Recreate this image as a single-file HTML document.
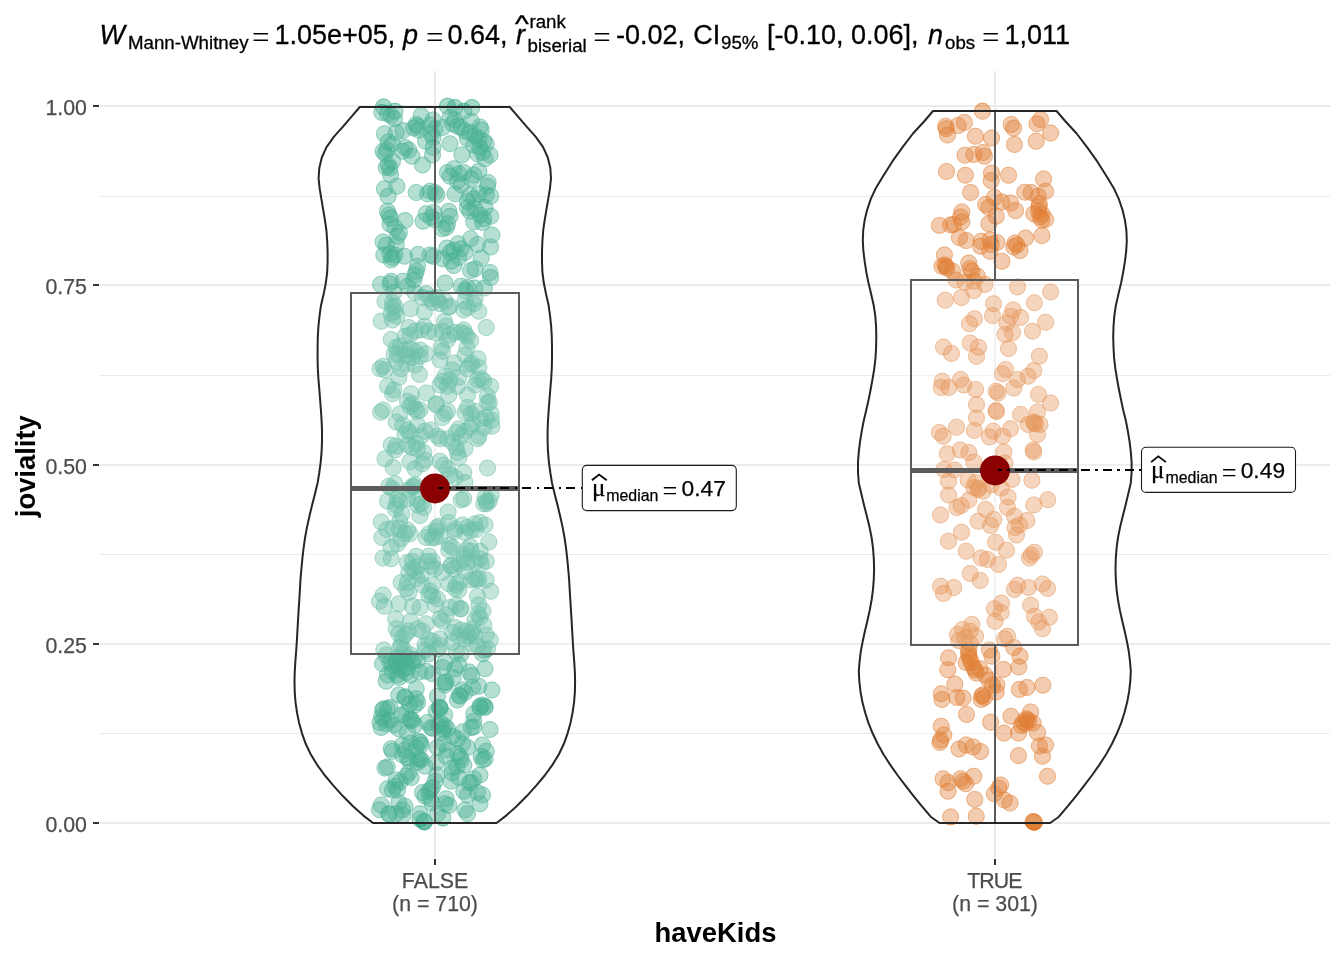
<!DOCTYPE html>
<html lang="en"><head><meta charset="utf-8"><title>ggbetweenstats: joviality by haveKids</title>
<style>html,body{margin:0;padding:0;background:#fff}body{width:1344px;height:960px;overflow:hidden}svg text{white-space:pre}</style>
</head><body>
<svg width="1344" height="960" viewBox="0 0 1344 960" style="display:block">
<rect width="1344" height="960" fill="#fff"/>
<g fill="#ebebeb" shape-rendering="crispEdges">
<rect x="100" y="196" width="1230" height="1"/>
<rect x="100" y="375" width="1230" height="1"/>
<rect x="100" y="554" width="1230" height="1"/>
<rect x="100" y="733" width="1230" height="1"/>
<rect x="100" y="822" width="1230" height="2"/>
<rect x="100" y="643" width="1230" height="2"/>
<rect x="100" y="464" width="1230" height="2"/>
<rect x="100" y="284" width="1230" height="2"/>
<rect x="100" y="105" width="1230" height="2"/>
<rect x="434" y="71" width="2" height="787"/>
<rect x="994" y="71" width="2" height="787"/>
</g>
<g fill="#1B9E77" fill-opacity="0.4"><circle cx="383.5" cy="106.9" r="8.5"/><circle cx="381.9" cy="112.5" r="8.5"/><circle cx="395.0" cy="111.2" r="8.5"/><circle cx="391.2" cy="115.6" r="8.5"/><circle cx="394.4" cy="118.8" r="8.5"/><circle cx="387.5" cy="113.8" r="8.5"/><circle cx="384.4" cy="133.8" r="8.5"/><circle cx="396.2" cy="132.5" r="8.5"/><circle cx="403.1" cy="130.6" r="8.5"/><circle cx="388.1" cy="141.9" r="8.5"/><circle cx="392.5" cy="143.8" r="8.5"/><circle cx="383.1" cy="151.2" r="8.5"/><circle cx="385.0" cy="153.8" r="8.5"/><circle cx="386.9" cy="150.0" r="8.5"/><circle cx="405.0" cy="147.5" r="8.5"/><circle cx="402.5" cy="151.2" r="8.5"/><circle cx="408.8" cy="150.0" r="8.5"/><circle cx="411.9" cy="156.2" r="8.5"/><circle cx="392.5" cy="161.2" r="8.5"/><circle cx="388.1" cy="165.0" r="8.5"/><circle cx="390.0" cy="168.1" r="8.5"/><circle cx="386.2" cy="167.5" r="8.5"/><circle cx="390.6" cy="175.0" r="8.5"/><circle cx="422.5" cy="165.0" r="8.5"/><circle cx="384.4" cy="188.8" r="8.5"/><circle cx="396.9" cy="186.2" r="8.5"/><circle cx="388.1" cy="196.2" r="8.5"/><circle cx="421.2" cy="115.6" r="8.5"/><circle cx="416.2" cy="124.4" r="8.5"/><circle cx="413.8" cy="128.1" r="8.5"/><circle cx="418.8" cy="130.0" r="8.5"/><circle cx="417.5" cy="126.2" r="8.5"/><circle cx="433.1" cy="120.0" r="8.5"/><circle cx="430.0" cy="125.0" r="8.5"/><circle cx="435.0" cy="128.8" r="8.5"/><circle cx="431.2" cy="133.8" r="8.5"/><circle cx="433.1" cy="137.5" r="8.5"/><circle cx="425.6" cy="141.2" r="8.5"/><circle cx="432.5" cy="155.0" r="8.5"/><circle cx="433.1" cy="147.5" r="8.5"/><circle cx="447.5" cy="106.2" r="8.5"/><circle cx="455.0" cy="107.5" r="8.5"/><circle cx="471.9" cy="107.5" r="8.5"/><circle cx="463.8" cy="111.2" r="8.5"/><circle cx="450.0" cy="117.5" r="8.5"/><circle cx="455.0" cy="120.0" r="8.5"/><circle cx="452.5" cy="123.8" r="8.5"/><circle cx="461.2" cy="127.5" r="8.5"/><circle cx="465.0" cy="131.2" r="8.5"/><circle cx="470.0" cy="132.5" r="8.5"/><circle cx="480.0" cy="126.9" r="8.5"/><circle cx="481.2" cy="130.0" r="8.5"/><circle cx="475.0" cy="136.2" r="8.5"/><circle cx="478.8" cy="138.8" r="8.5"/><circle cx="483.8" cy="141.2" r="8.5"/><circle cx="486.2" cy="143.8" r="8.5"/><circle cx="471.2" cy="121.2" r="8.5"/><circle cx="450.0" cy="143.8" r="8.5"/><circle cx="461.9" cy="155.0" r="8.5"/><circle cx="480.0" cy="147.5" r="8.5"/><circle cx="482.5" cy="152.5" r="8.5"/><circle cx="490.0" cy="155.0" r="8.5"/><circle cx="477.5" cy="153.8" r="8.5"/><circle cx="485.0" cy="158.8" r="8.5"/><circle cx="473.8" cy="145.0" r="8.5"/><circle cx="467.5" cy="138.8" r="8.5"/><circle cx="457.5" cy="126.2" r="8.5"/><circle cx="442.5" cy="127.5" r="8.5"/><circle cx="447.5" cy="172.5" r="8.5"/><circle cx="453.8" cy="168.8" r="8.5"/><circle cx="450.0" cy="176.2" r="8.5"/><circle cx="458.8" cy="173.8" r="8.5"/><circle cx="463.8" cy="172.5" r="8.5"/><circle cx="473.8" cy="175.0" r="8.5"/><circle cx="471.2" cy="178.8" r="8.5"/><circle cx="457.5" cy="181.2" r="8.5"/><circle cx="478.8" cy="171.2" r="8.5"/><circle cx="488.1" cy="182.5" r="8.5"/><circle cx="487.5" cy="186.2" r="8.5"/><circle cx="461.2" cy="185.0" r="8.5"/><circle cx="416.2" cy="192.5" r="8.5"/><circle cx="430.0" cy="191.2" r="8.5"/><circle cx="435.0" cy="192.5" r="8.5"/><circle cx="436.9" cy="195.0" r="8.5"/><circle cx="427.5" cy="193.8" r="8.5"/><circle cx="455.0" cy="193.8" r="8.5"/><circle cx="470.0" cy="195.0" r="8.5"/><circle cx="473.8" cy="198.8" r="8.5"/><circle cx="467.5" cy="201.2" r="8.5"/><circle cx="486.2" cy="195.0" r="8.5"/><circle cx="490.6" cy="196.2" r="8.5"/><circle cx="478.8" cy="193.8" r="8.5"/><circle cx="387.5" cy="211.2" r="8.5"/><circle cx="388.8" cy="215.0" r="8.5"/><circle cx="390.6" cy="218.1" r="8.5"/><circle cx="405.0" cy="220.6" r="8.5"/><circle cx="395.0" cy="227.5" r="8.5"/><circle cx="399.4" cy="232.5" r="8.5"/><circle cx="397.5" cy="236.2" r="8.5"/><circle cx="383.1" cy="241.9" r="8.5"/><circle cx="386.2" cy="245.0" r="8.5"/><circle cx="396.2" cy="244.4" r="8.5"/><circle cx="383.8" cy="255.0" r="8.5"/><circle cx="390.0" cy="253.8" r="8.5"/><circle cx="392.5" cy="257.5" r="8.5"/><circle cx="395.0" cy="255.0" r="8.5"/><circle cx="391.2" cy="260.0" r="8.5"/><circle cx="404.4" cy="256.2" r="8.5"/><circle cx="418.1" cy="254.4" r="8.5"/><circle cx="417.5" cy="266.2" r="8.5"/><circle cx="416.2" cy="271.2" r="8.5"/><circle cx="415.0" cy="275.0" r="8.5"/><circle cx="413.8" cy="280.0" r="8.5"/><circle cx="380.6" cy="284.4" r="8.5"/><circle cx="391.2" cy="281.2" r="8.5"/><circle cx="390.0" cy="283.8" r="8.5"/><circle cx="403.1" cy="281.2" r="8.5"/><circle cx="407.5" cy="286.2" r="8.5"/><circle cx="393.8" cy="292.5" r="8.5"/><circle cx="426.2" cy="213.8" r="8.5"/><circle cx="423.1" cy="221.2" r="8.5"/><circle cx="433.8" cy="212.5" r="8.5"/><circle cx="435.0" cy="220.0" r="8.5"/><circle cx="431.2" cy="217.5" r="8.5"/><circle cx="433.1" cy="256.2" r="8.5"/><circle cx="430.0" cy="255.0" r="8.5"/><circle cx="448.8" cy="211.2" r="8.5"/><circle cx="450.0" cy="216.2" r="8.5"/><circle cx="447.5" cy="223.8" r="8.5"/><circle cx="442.5" cy="228.8" r="8.5"/><circle cx="446.2" cy="227.5" r="8.5"/><circle cx="467.5" cy="207.5" r="8.5"/><circle cx="475.0" cy="208.8" r="8.5"/><circle cx="470.0" cy="211.2" r="8.5"/><circle cx="480.0" cy="215.0" r="8.5"/><circle cx="483.8" cy="218.8" r="8.5"/><circle cx="485.0" cy="207.5" r="8.5"/><circle cx="490.6" cy="216.2" r="8.5"/><circle cx="473.8" cy="221.9" r="8.5"/><circle cx="482.5" cy="222.5" r="8.5"/><circle cx="491.9" cy="235.0" r="8.5"/><circle cx="470.6" cy="238.8" r="8.5"/><circle cx="458.1" cy="243.8" r="8.5"/><circle cx="446.9" cy="248.1" r="8.5"/><circle cx="453.8" cy="250.0" r="8.5"/><circle cx="461.2" cy="248.8" r="8.5"/><circle cx="465.0" cy="252.5" r="8.5"/><circle cx="477.5" cy="244.4" r="8.5"/><circle cx="490.6" cy="246.9" r="8.5"/><circle cx="481.2" cy="258.1" r="8.5"/><circle cx="442.5" cy="258.8" r="8.5"/><circle cx="451.2" cy="261.2" r="8.5"/><circle cx="453.8" cy="265.6" r="8.5"/><circle cx="458.8" cy="257.5" r="8.5"/><circle cx="470.6" cy="270.6" r="8.5"/><circle cx="475.0" cy="268.8" r="8.5"/><circle cx="490.0" cy="272.5" r="8.5"/><circle cx="490.6" cy="277.5" r="8.5"/><circle cx="445.0" cy="283.1" r="8.5"/><circle cx="461.2" cy="286.2" r="8.5"/><circle cx="465.0" cy="290.6" r="8.5"/><circle cx="475.0" cy="288.1" r="8.5"/><circle cx="484.4" cy="288.1" r="8.5"/><circle cx="467.5" cy="287.5" r="8.5"/><circle cx="415.0" cy="292.5" r="8.5"/><circle cx="426.2" cy="293.8" r="8.5"/><circle cx="422.5" cy="297.5" r="8.5"/><circle cx="430.0" cy="298.8" r="8.5"/><circle cx="437.5" cy="300.0" r="8.5"/><circle cx="445.0" cy="301.2" r="8.5"/><circle cx="385.0" cy="301.2" r="8.5"/><circle cx="392.5" cy="302.5" r="8.5"/><circle cx="395.0" cy="306.2" r="8.5"/><circle cx="465.0" cy="301.2" r="8.5"/><circle cx="475.0" cy="298.8" r="8.5"/><circle cx="450.3" cy="252.3" r="8.5"/><circle cx="448.4" cy="307.2" r="8.5"/><circle cx="390.1" cy="224.3" r="8.5"/><circle cx="392.5" cy="307.5" r="8.5"/><circle cx="395.0" cy="311.2" r="8.5"/><circle cx="391.2" cy="313.8" r="8.5"/><circle cx="396.9" cy="316.2" r="8.5"/><circle cx="410.6" cy="308.8" r="8.5"/><circle cx="424.4" cy="311.9" r="8.5"/><circle cx="381.2" cy="321.2" r="8.5"/><circle cx="392.5" cy="320.0" r="8.5"/><circle cx="467.5" cy="307.5" r="8.5"/><circle cx="463.8" cy="310.0" r="8.5"/><circle cx="478.8" cy="311.2" r="8.5"/><circle cx="473.8" cy="303.8" r="8.5"/><circle cx="450.0" cy="306.2" r="8.5"/><circle cx="440.0" cy="303.8" r="8.5"/><circle cx="432.5" cy="302.5" r="8.5"/><circle cx="486.2" cy="327.5" r="8.5"/><circle cx="444.4" cy="321.2" r="8.5"/><circle cx="446.2" cy="326.2" r="8.5"/><circle cx="442.5" cy="331.2" r="8.5"/><circle cx="450.0" cy="335.0" r="8.5"/><circle cx="447.5" cy="340.0" r="8.5"/><circle cx="463.8" cy="330.0" r="8.5"/><circle cx="465.0" cy="333.8" r="8.5"/><circle cx="461.2" cy="332.5" r="8.5"/><circle cx="470.6" cy="340.6" r="8.5"/><circle cx="466.9" cy="347.5" r="8.5"/><circle cx="424.4" cy="326.2" r="8.5"/><circle cx="421.2" cy="330.0" r="8.5"/><circle cx="428.8" cy="331.2" r="8.5"/><circle cx="415.0" cy="331.2" r="8.5"/><circle cx="408.8" cy="327.5" r="8.5"/><circle cx="410.0" cy="335.0" r="8.5"/><circle cx="405.0" cy="336.2" r="8.5"/><circle cx="391.2" cy="339.4" r="8.5"/><circle cx="400.0" cy="346.2" r="8.5"/><circle cx="405.0" cy="350.0" r="8.5"/><circle cx="410.0" cy="348.8" r="8.5"/><circle cx="415.0" cy="351.2" r="8.5"/><circle cx="420.0" cy="350.0" r="8.5"/><circle cx="406.2" cy="355.0" r="8.5"/><circle cx="412.5" cy="357.5" r="8.5"/><circle cx="420.0" cy="356.2" r="8.5"/><circle cx="425.6" cy="353.8" r="8.5"/><circle cx="397.5" cy="353.8" r="8.5"/><circle cx="441.2" cy="347.5" r="8.5"/><circle cx="442.5" cy="351.2" r="8.5"/><circle cx="440.0" cy="360.0" r="8.5"/><circle cx="465.0" cy="355.0" r="8.5"/><circle cx="478.1" cy="358.8" r="8.5"/><circle cx="454.4" cy="363.1" r="8.5"/><circle cx="452.5" cy="370.0" r="8.5"/><circle cx="470.0" cy="365.0" r="8.5"/><circle cx="478.8" cy="367.5" r="8.5"/><circle cx="467.5" cy="368.8" r="8.5"/><circle cx="383.1" cy="366.2" r="8.5"/><circle cx="385.0" cy="370.0" r="8.5"/><circle cx="380.0" cy="368.8" r="8.5"/><circle cx="396.2" cy="361.2" r="8.5"/><circle cx="401.2" cy="368.8" r="8.5"/><circle cx="415.0" cy="365.0" r="8.5"/><circle cx="419.4" cy="374.4" r="8.5"/><circle cx="398.8" cy="377.5" r="8.5"/><circle cx="387.5" cy="386.2" r="8.5"/><circle cx="393.8" cy="390.0" r="8.5"/><circle cx="392.5" cy="393.8" r="8.5"/><circle cx="445.0" cy="376.2" r="8.5"/><circle cx="442.5" cy="381.2" r="8.5"/><circle cx="450.0" cy="380.0" r="8.5"/><circle cx="458.8" cy="377.5" r="8.5"/><circle cx="440.0" cy="385.0" r="8.5"/><circle cx="447.5" cy="386.2" r="8.5"/><circle cx="481.2" cy="378.8" r="8.5"/><circle cx="483.8" cy="381.2" r="8.5"/><circle cx="477.5" cy="380.0" r="8.5"/><circle cx="490.6" cy="386.2" r="8.5"/><circle cx="475.0" cy="385.0" r="8.5"/><circle cx="411.2" cy="393.8" r="8.5"/><circle cx="426.2" cy="393.1" r="8.5"/><circle cx="448.8" cy="395.0" r="8.5"/><circle cx="467.5" cy="395.0" r="8.5"/><circle cx="487.5" cy="396.2" r="8.5"/><circle cx="489.4" cy="402.5" r="8.5"/><circle cx="407.5" cy="401.2" r="8.5"/><circle cx="412.5" cy="403.8" r="8.5"/><circle cx="436.2" cy="403.8" r="8.5"/><circle cx="457.5" cy="386.2" r="8.5"/><circle cx="435.0" cy="332.5" r="8.5"/><circle cx="455.0" cy="332.5" r="8.5"/><circle cx="396.2" cy="347.5" r="8.5"/><circle cx="406.9" cy="363.3" r="8.5"/><circle cx="394.0" cy="354.4" r="8.5"/><circle cx="471.9" cy="363.5" r="8.5"/><circle cx="467.1" cy="336.2" r="8.5"/><circle cx="436.7" cy="297.4" r="8.5"/><circle cx="380.6" cy="412.2" r="8.5"/><circle cx="400.0" cy="413.8" r="8.5"/><circle cx="396.2" cy="421.9" r="8.5"/><circle cx="410.0" cy="406.2" r="8.5"/><circle cx="415.0" cy="408.8" r="8.5"/><circle cx="420.0" cy="410.0" r="8.5"/><circle cx="436.2" cy="405.0" r="8.5"/><circle cx="445.0" cy="413.8" r="8.5"/><circle cx="442.5" cy="417.5" r="8.5"/><circle cx="447.5" cy="411.2" r="8.5"/><circle cx="467.5" cy="407.5" r="8.5"/><circle cx="471.2" cy="413.8" r="8.5"/><circle cx="465.0" cy="412.5" r="8.5"/><circle cx="475.0" cy="411.2" r="8.5"/><circle cx="487.5" cy="402.5" r="8.5"/><circle cx="491.2" cy="413.8" r="8.5"/><circle cx="486.2" cy="417.5" r="8.5"/><circle cx="480.0" cy="418.8" r="8.5"/><circle cx="491.9" cy="426.2" r="8.5"/><circle cx="483.8" cy="427.5" r="8.5"/><circle cx="470.0" cy="427.5" r="8.5"/><circle cx="472.5" cy="423.8" r="8.5"/><circle cx="465.0" cy="431.2" r="8.5"/><circle cx="458.8" cy="428.8" r="8.5"/><circle cx="456.2" cy="432.5" r="8.5"/><circle cx="461.2" cy="436.2" r="8.5"/><circle cx="478.8" cy="436.2" r="8.5"/><circle cx="477.5" cy="438.8" r="8.5"/><circle cx="417.5" cy="425.0" r="8.5"/><circle cx="407.5" cy="430.0" r="8.5"/><circle cx="410.0" cy="432.5" r="8.5"/><circle cx="405.0" cy="435.0" r="8.5"/><circle cx="425.0" cy="431.2" r="8.5"/><circle cx="431.2" cy="430.0" r="8.5"/><circle cx="421.2" cy="436.2" r="8.5"/><circle cx="437.5" cy="436.2" r="8.5"/><circle cx="440.0" cy="438.8" r="8.5"/><circle cx="447.5" cy="438.8" r="8.5"/><circle cx="452.5" cy="442.5" r="8.5"/><circle cx="391.2" cy="445.0" r="8.5"/><circle cx="396.2" cy="446.2" r="8.5"/><circle cx="395.0" cy="450.0" r="8.5"/><circle cx="407.5" cy="445.0" r="8.5"/><circle cx="412.5" cy="447.5" r="8.5"/><circle cx="416.2" cy="443.8" r="8.5"/><circle cx="417.5" cy="448.8" r="8.5"/><circle cx="423.8" cy="452.5" r="8.5"/><circle cx="385.0" cy="458.8" r="8.5"/><circle cx="393.1" cy="467.5" r="8.5"/><circle cx="425.0" cy="460.0" r="8.5"/><circle cx="422.5" cy="463.8" r="8.5"/><circle cx="415.0" cy="468.8" r="8.5"/><circle cx="440.0" cy="461.2" r="8.5"/><circle cx="443.8" cy="465.0" r="8.5"/><circle cx="447.5" cy="468.8" r="8.5"/><circle cx="457.5" cy="452.5" r="8.5"/><circle cx="458.8" cy="457.5" r="8.5"/><circle cx="456.2" cy="447.5" r="8.5"/><circle cx="465.0" cy="448.8" r="8.5"/><circle cx="487.5" cy="468.1" r="8.5"/><circle cx="450.0" cy="475.0" r="8.5"/><circle cx="455.0" cy="477.5" r="8.5"/><circle cx="463.8" cy="472.5" r="8.5"/><circle cx="465.0" cy="482.5" r="8.5"/><circle cx="388.8" cy="486.2" r="8.5"/><circle cx="392.5" cy="488.8" r="8.5"/><circle cx="395.0" cy="483.8" r="8.5"/><circle cx="412.5" cy="486.2" r="8.5"/><circle cx="415.0" cy="485.0" r="8.5"/><circle cx="387.5" cy="501.2" r="8.5"/><circle cx="397.5" cy="498.8" r="8.5"/><circle cx="400.0" cy="501.2" r="8.5"/><circle cx="396.2" cy="505.0" r="8.5"/><circle cx="421.2" cy="503.8" r="8.5"/><circle cx="423.8" cy="507.5" r="8.5"/><circle cx="417.5" cy="505.0" r="8.5"/><circle cx="463.8" cy="498.8" r="8.5"/><circle cx="461.2" cy="500.0" r="8.5"/><circle cx="485.0" cy="497.5" r="8.5"/><circle cx="486.2" cy="501.2" r="8.5"/><circle cx="483.8" cy="503.8" r="8.5"/><circle cx="491.2" cy="495.0" r="8.5"/><circle cx="408.8" cy="490.0" r="8.5"/><circle cx="407.5" cy="498.8" r="8.5"/><circle cx="409.8" cy="461.8" r="8.5"/><circle cx="417.2" cy="499.8" r="8.5"/><circle cx="414.0" cy="487.1" r="8.5"/><circle cx="486.8" cy="503.7" r="8.5"/><circle cx="491.5" cy="420.2" r="8.5"/><circle cx="489.3" cy="500.9" r="8.5"/><circle cx="402.8" cy="425.0" r="8.5"/><circle cx="417.2" cy="411.4" r="8.5"/><circle cx="383.1" cy="410.0" r="8.5"/><circle cx="401.9" cy="513.8" r="8.5"/><circle cx="420.0" cy="515.6" r="8.5"/><circle cx="381.2" cy="521.9" r="8.5"/><circle cx="386.9" cy="529.4" r="8.5"/><circle cx="393.1" cy="528.1" r="8.5"/><circle cx="381.9" cy="537.5" r="8.5"/><circle cx="448.1" cy="511.9" r="8.5"/><circle cx="448.8" cy="522.5" r="8.5"/><circle cx="438.8" cy="526.2" r="8.5"/><circle cx="436.2" cy="531.2" r="8.5"/><circle cx="428.8" cy="533.8" r="8.5"/><circle cx="426.2" cy="537.5" r="8.5"/><circle cx="435.0" cy="537.5" r="8.5"/><circle cx="440.0" cy="536.2" r="8.5"/><circle cx="407.5" cy="530.0" r="8.5"/><circle cx="410.0" cy="533.8" r="8.5"/><circle cx="405.0" cy="533.8" r="8.5"/><circle cx="401.2" cy="538.8" r="8.5"/><circle cx="397.5" cy="543.8" r="8.5"/><circle cx="391.2" cy="547.5" r="8.5"/><circle cx="462.5" cy="525.0" r="8.5"/><circle cx="467.5" cy="527.5" r="8.5"/><circle cx="475.0" cy="523.8" r="8.5"/><circle cx="480.0" cy="522.5" r="8.5"/><circle cx="485.0" cy="525.0" r="8.5"/><circle cx="465.0" cy="532.5" r="8.5"/><circle cx="471.2" cy="530.0" r="8.5"/><circle cx="455.0" cy="528.8" r="8.5"/><circle cx="488.8" cy="541.9" r="8.5"/><circle cx="470.0" cy="546.2" r="8.5"/><circle cx="466.2" cy="550.0" r="8.5"/><circle cx="471.2" cy="551.2" r="8.5"/><circle cx="463.8" cy="555.0" r="8.5"/><circle cx="449.4" cy="545.0" r="8.5"/><circle cx="448.8" cy="550.0" r="8.5"/><circle cx="452.5" cy="547.5" r="8.5"/><circle cx="383.1" cy="558.1" r="8.5"/><circle cx="391.2" cy="558.8" r="8.5"/><circle cx="416.2" cy="556.2" r="8.5"/><circle cx="412.5" cy="561.2" r="8.5"/><circle cx="407.5" cy="562.5" r="8.5"/><circle cx="428.8" cy="556.2" r="8.5"/><circle cx="432.5" cy="561.2" r="8.5"/><circle cx="427.5" cy="561.2" r="8.5"/><circle cx="431.2" cy="566.2" r="8.5"/><circle cx="435.0" cy="568.8" r="8.5"/><circle cx="412.5" cy="568.8" r="8.5"/><circle cx="415.0" cy="571.2" r="8.5"/><circle cx="408.8" cy="572.5" r="8.5"/><circle cx="417.5" cy="566.2" r="8.5"/><circle cx="451.2" cy="565.0" r="8.5"/><circle cx="453.8" cy="568.8" r="8.5"/><circle cx="458.8" cy="563.8" r="8.5"/><circle cx="467.5" cy="562.5" r="8.5"/><circle cx="480.0" cy="558.8" r="8.5"/><circle cx="486.2" cy="561.2" r="8.5"/><circle cx="475.0" cy="562.5" r="8.5"/><circle cx="481.2" cy="563.8" r="8.5"/><circle cx="401.2" cy="582.5" r="8.5"/><circle cx="407.5" cy="582.5" r="8.5"/><circle cx="406.2" cy="588.8" r="8.5"/><circle cx="408.8" cy="592.5" r="8.5"/><circle cx="422.5" cy="585.0" r="8.5"/><circle cx="432.5" cy="585.0" r="8.5"/><circle cx="430.0" cy="591.2" r="8.5"/><circle cx="428.8" cy="595.0" r="8.5"/><circle cx="432.5" cy="596.2" r="8.5"/><circle cx="448.8" cy="583.8" r="8.5"/><circle cx="456.2" cy="585.0" r="8.5"/><circle cx="455.0" cy="588.8" r="8.5"/><circle cx="458.8" cy="590.0" r="8.5"/><circle cx="475.0" cy="578.8" r="8.5"/><circle cx="478.8" cy="578.8" r="8.5"/><circle cx="486.2" cy="580.0" r="8.5"/><circle cx="471.2" cy="580.0" r="8.5"/><circle cx="490.6" cy="591.2" r="8.5"/><circle cx="477.5" cy="596.2" r="8.5"/><circle cx="383.1" cy="595.0" r="8.5"/><circle cx="384.4" cy="606.2" r="8.5"/><circle cx="398.8" cy="603.8" r="8.5"/><circle cx="412.5" cy="606.2" r="8.5"/><circle cx="420.0" cy="607.5" r="8.5"/><circle cx="437.5" cy="598.8" r="8.5"/><circle cx="450.0" cy="607.5" r="8.5"/><circle cx="461.2" cy="608.8" r="8.5"/><circle cx="478.8" cy="605.0" r="8.5"/><circle cx="421.2" cy="575.0" r="8.5"/><circle cx="465.0" cy="571.2" r="8.5"/><circle cx="442.5" cy="572.5" r="8.5"/><circle cx="480.0" cy="551.2" r="8.5"/><circle cx="475.7" cy="529.7" r="8.5"/><circle cx="454.7" cy="531.6" r="8.5"/><circle cx="399.8" cy="521.4" r="8.5"/><circle cx="459.8" cy="582.0" r="8.5"/><circle cx="476.9" cy="579.8" r="8.5"/><circle cx="395.5" cy="509.3" r="8.5"/><circle cx="417.0" cy="578.6" r="8.5"/><circle cx="456.2" cy="605.3" r="8.5"/><circle cx="464.1" cy="558.9" r="8.5"/><circle cx="432.2" cy="537.9" r="8.5"/><circle cx="379.5" cy="601.2" r="8.5"/><circle cx="436.5" cy="527.8" r="8.5"/><circle cx="435.3" cy="604.7" r="8.5"/><circle cx="451.1" cy="566.2" r="8.5"/><circle cx="399.1" cy="528.8" r="8.5"/><circle cx="395.6" cy="618.8" r="8.5"/><circle cx="410.6" cy="621.2" r="8.5"/><circle cx="396.2" cy="628.8" r="8.5"/><circle cx="398.8" cy="633.8" r="8.5"/><circle cx="402.5" cy="637.5" r="8.5"/><circle cx="417.5" cy="628.8" r="8.5"/><circle cx="422.5" cy="631.2" r="8.5"/><circle cx="426.2" cy="623.8" r="8.5"/><circle cx="440.0" cy="618.8" r="8.5"/><circle cx="442.5" cy="621.2" r="8.5"/><circle cx="446.2" cy="615.0" r="8.5"/><circle cx="460.0" cy="608.8" r="8.5"/><circle cx="478.1" cy="613.8" r="8.5"/><circle cx="480.0" cy="617.5" r="8.5"/><circle cx="475.0" cy="620.0" r="8.5"/><circle cx="483.8" cy="625.0" r="8.5"/><circle cx="455.0" cy="627.5" r="8.5"/><circle cx="452.5" cy="632.5" r="8.5"/><circle cx="461.2" cy="630.0" r="8.5"/><circle cx="466.2" cy="631.2" r="8.5"/><circle cx="471.2" cy="632.5" r="8.5"/><circle cx="472.5" cy="628.8" r="8.5"/><circle cx="468.8" cy="636.2" r="8.5"/><circle cx="486.2" cy="635.0" r="8.5"/><circle cx="458.8" cy="636.2" r="8.5"/><circle cx="471.2" cy="643.8" r="8.5"/><circle cx="440.0" cy="638.8" r="8.5"/><circle cx="432.5" cy="641.2" r="8.5"/><circle cx="428.8" cy="640.0" r="8.5"/><circle cx="425.0" cy="645.0" r="8.5"/><circle cx="425.0" cy="650.0" r="8.5"/><circle cx="437.5" cy="648.8" r="8.5"/><circle cx="452.5" cy="642.5" r="8.5"/><circle cx="461.2" cy="653.8" r="8.5"/><circle cx="487.5" cy="648.8" r="8.5"/><circle cx="482.5" cy="653.8" r="8.5"/><circle cx="383.8" cy="650.0" r="8.5"/><circle cx="386.2" cy="655.0" r="8.5"/><circle cx="400.0" cy="647.5" r="8.5"/><circle cx="403.8" cy="650.0" r="8.5"/><circle cx="401.2" cy="645.0" r="8.5"/><circle cx="390.0" cy="662.5" r="8.5"/><circle cx="392.5" cy="665.0" r="8.5"/><circle cx="396.2" cy="661.2" r="8.5"/><circle cx="401.2" cy="660.0" r="8.5"/><circle cx="405.0" cy="662.5" r="8.5"/><circle cx="398.8" cy="667.5" r="8.5"/><circle cx="402.5" cy="670.0" r="8.5"/><circle cx="407.5" cy="667.5" r="8.5"/><circle cx="392.5" cy="671.2" r="8.5"/><circle cx="397.5" cy="675.0" r="8.5"/><circle cx="387.5" cy="675.0" r="8.5"/><circle cx="386.2" cy="681.2" r="8.5"/><circle cx="398.8" cy="677.5" r="8.5"/><circle cx="382.5" cy="663.8" r="8.5"/><circle cx="410.0" cy="675.0" r="8.5"/><circle cx="417.5" cy="660.0" r="8.5"/><circle cx="426.2" cy="671.2" r="8.5"/><circle cx="432.5" cy="673.8" r="8.5"/><circle cx="445.0" cy="662.5" r="8.5"/><circle cx="442.5" cy="667.5" r="8.5"/><circle cx="455.0" cy="668.8" r="8.5"/><circle cx="458.8" cy="665.0" r="8.5"/><circle cx="469.4" cy="671.9" r="8.5"/><circle cx="485.0" cy="668.8" r="8.5"/><circle cx="446.2" cy="682.5" r="8.5"/><circle cx="445.0" cy="685.0" r="8.5"/><circle cx="416.2" cy="688.8" r="8.5"/><circle cx="398.8" cy="695.0" r="8.5"/><circle cx="405.0" cy="697.5" r="8.5"/><circle cx="416.2" cy="698.8" r="8.5"/><circle cx="417.5" cy="702.5" r="8.5"/><circle cx="415.0" cy="705.0" r="8.5"/><circle cx="462.5" cy="690.0" r="8.5"/><circle cx="465.0" cy="692.5" r="8.5"/><circle cx="460.0" cy="696.2" r="8.5"/><circle cx="457.5" cy="700.0" r="8.5"/><circle cx="472.5" cy="687.5" r="8.5"/><circle cx="478.8" cy="686.2" r="8.5"/><circle cx="491.9" cy="690.0" r="8.5"/><circle cx="437.5" cy="696.2" r="8.5"/><circle cx="482.5" cy="705.0" r="8.5"/><circle cx="485.0" cy="706.2" r="8.5"/><circle cx="480.0" cy="707.5" r="8.5"/><circle cx="383.8" cy="708.8" r="8.5"/><circle cx="390.0" cy="707.5" r="8.5"/><circle cx="440.0" cy="707.5" r="8.5"/><circle cx="402.5" cy="655.0" r="8.5"/><circle cx="397.5" cy="657.5" r="8.5"/><circle cx="407.5" cy="657.5" r="8.5"/><circle cx="465.0" cy="638.8" r="8.5"/><circle cx="475.0" cy="636.2" r="8.5"/><circle cx="453.2" cy="677.8" r="8.5"/><circle cx="405.6" cy="634.2" r="8.5"/><circle cx="483.8" cy="650.1" r="8.5"/><circle cx="459.4" cy="695.2" r="8.5"/><circle cx="408.3" cy="631.0" r="8.5"/><circle cx="412.2" cy="662.3" r="8.5"/><circle cx="405.0" cy="696.8" r="8.5"/><circle cx="409.5" cy="704.1" r="8.5"/><circle cx="483.0" cy="610.9" r="8.5"/><circle cx="410.7" cy="654.9" r="8.5"/><circle cx="439.3" cy="707.3" r="8.5"/><circle cx="444.7" cy="682.1" r="8.5"/><circle cx="456.3" cy="652.0" r="8.5"/><circle cx="413.9" cy="659.3" r="8.5"/><circle cx="396.5" cy="661.7" r="8.5"/><circle cx="490.2" cy="640.1" r="8.5"/><circle cx="429.0" cy="653.8" r="8.5"/><circle cx="471.7" cy="675.5" r="8.5"/><circle cx="440.4" cy="645.7" r="8.5"/><circle cx="406.3" cy="672.7" r="8.5"/><circle cx="477.5" cy="645.8" r="8.5"/><circle cx="419.4" cy="671.9" r="8.5"/><circle cx="387.5" cy="708.8" r="8.5"/><circle cx="382.5" cy="710.0" r="8.5"/><circle cx="383.8" cy="718.8" r="8.5"/><circle cx="380.0" cy="722.5" r="8.5"/><circle cx="386.2" cy="723.8" r="8.5"/><circle cx="390.0" cy="720.0" r="8.5"/><circle cx="381.2" cy="727.5" r="8.5"/><circle cx="393.8" cy="725.0" r="8.5"/><circle cx="398.8" cy="728.8" r="8.5"/><circle cx="401.2" cy="715.0" r="8.5"/><circle cx="410.0" cy="718.8" r="8.5"/><circle cx="415.0" cy="725.0" r="8.5"/><circle cx="427.5" cy="722.5" r="8.5"/><circle cx="431.2" cy="727.5" r="8.5"/><circle cx="436.2" cy="711.2" r="8.5"/><circle cx="440.0" cy="708.8" r="8.5"/><circle cx="441.2" cy="723.8" r="8.5"/><circle cx="445.0" cy="726.2" r="8.5"/><circle cx="447.5" cy="728.8" r="8.5"/><circle cx="442.5" cy="732.5" r="8.5"/><circle cx="452.5" cy="736.2" r="8.5"/><circle cx="457.5" cy="738.8" r="8.5"/><circle cx="473.8" cy="713.8" r="8.5"/><circle cx="473.8" cy="721.2" r="8.5"/><circle cx="471.2" cy="727.5" r="8.5"/><circle cx="490.0" cy="729.4" r="8.5"/><circle cx="485.0" cy="707.5" r="8.5"/><circle cx="480.0" cy="706.2" r="8.5"/><circle cx="391.2" cy="748.8" r="8.5"/><circle cx="392.5" cy="751.2" r="8.5"/><circle cx="402.5" cy="745.0" r="8.5"/><circle cx="405.0" cy="750.0" r="8.5"/><circle cx="402.5" cy="755.0" r="8.5"/><circle cx="407.5" cy="757.5" r="8.5"/><circle cx="418.8" cy="741.2" r="8.5"/><circle cx="421.2" cy="745.0" r="8.5"/><circle cx="416.2" cy="747.5" r="8.5"/><circle cx="421.2" cy="760.0" r="8.5"/><circle cx="425.0" cy="766.2" r="8.5"/><circle cx="417.5" cy="762.5" r="8.5"/><circle cx="437.5" cy="747.5" r="8.5"/><circle cx="447.5" cy="750.0" r="8.5"/><circle cx="446.2" cy="756.2" r="8.5"/><circle cx="436.2" cy="762.5" r="8.5"/><circle cx="457.5" cy="753.8" r="8.5"/><circle cx="461.2" cy="760.0" r="8.5"/><circle cx="463.8" cy="765.0" r="8.5"/><circle cx="467.5" cy="747.5" r="8.5"/><circle cx="482.5" cy="745.0" r="8.5"/><circle cx="486.2" cy="751.2" r="8.5"/><circle cx="481.2" cy="756.2" r="8.5"/><circle cx="485.0" cy="758.8" r="8.5"/><circle cx="385.0" cy="768.1" r="8.5"/><circle cx="408.8" cy="772.5" r="8.5"/><circle cx="406.2" cy="776.2" r="8.5"/><circle cx="411.2" cy="777.5" r="8.5"/><circle cx="396.2" cy="780.0" r="8.5"/><circle cx="395.0" cy="786.2" r="8.5"/><circle cx="397.5" cy="790.0" r="8.5"/><circle cx="387.5" cy="788.8" r="8.5"/><circle cx="392.5" cy="790.0" r="8.5"/><circle cx="435.0" cy="781.2" r="8.5"/><circle cx="432.5" cy="787.5" r="8.5"/><circle cx="451.2" cy="781.2" r="8.5"/><circle cx="458.8" cy="777.5" r="8.5"/><circle cx="473.8" cy="778.8" r="8.5"/><circle cx="471.2" cy="782.5" r="8.5"/><circle cx="480.0" cy="775.0" r="8.5"/><circle cx="463.8" cy="791.2" r="8.5"/><circle cx="467.5" cy="795.0" r="8.5"/><circle cx="477.5" cy="792.5" r="8.5"/><circle cx="482.5" cy="795.0" r="8.5"/><circle cx="422.5" cy="792.5" r="8.5"/><circle cx="425.0" cy="796.2" r="8.5"/><circle cx="428.8" cy="791.2" r="8.5"/><circle cx="430.0" cy="798.8" r="8.5"/><circle cx="381.2" cy="805.0" r="8.5"/><circle cx="398.8" cy="802.5" r="8.5"/><circle cx="405.0" cy="806.2" r="8.5"/><circle cx="402.5" cy="810.0" r="8.5"/><circle cx="446.2" cy="798.8" r="8.5"/><circle cx="445.0" cy="803.8" r="8.5"/><circle cx="465.0" cy="810.0" r="8.5"/><circle cx="480.0" cy="803.8" r="8.5"/><circle cx="467.5" cy="813.8" r="8.5"/><circle cx="420.0" cy="813.8" r="8.5"/><circle cx="437.5" cy="813.8" r="8.5"/><circle cx="396.2" cy="813.8" r="8.5"/><circle cx="388.8" cy="813.8" r="8.5"/><circle cx="452.5" cy="767.5" r="8.5"/><circle cx="407.5" cy="732.5" r="8.5"/><circle cx="462.5" cy="743.8" r="8.5"/><circle cx="473.7" cy="727.0" r="8.5"/><circle cx="432.1" cy="802.9" r="8.5"/><circle cx="409.5" cy="760.8" r="8.5"/><circle cx="379.5" cy="809.8" r="8.5"/><circle cx="448.9" cy="805.4" r="8.5"/><circle cx="389.0" cy="814.2" r="8.5"/><circle cx="444.7" cy="714.9" r="8.5"/><circle cx="460.2" cy="756.8" r="8.5"/><circle cx="469.2" cy="782.7" r="8.5"/><circle cx="387.3" cy="767.0" r="8.5"/><circle cx="400.1" cy="781.9" r="8.5"/><circle cx="452.1" cy="772.7" r="8.5"/><circle cx="419.6" cy="758.6" r="8.5"/><circle cx="436.8" cy="774.8" r="8.5"/><circle cx="443.7" cy="743.8" r="8.5"/><circle cx="412.4" cy="720.5" r="8.5"/><circle cx="438.5" cy="725.8" r="8.5"/><circle cx="420.3" cy="742.5" r="8.5"/><circle cx="463.1" cy="731.8" r="8.5"/><circle cx="418.1" cy="758.7" r="8.5"/><circle cx="405.9" cy="713.2" r="8.5"/><circle cx="381.6" cy="716.8" r="8.5"/><circle cx="482.8" cy="759.9" r="8.5"/><circle cx="457.0" cy="766.4" r="8.5"/><circle cx="430.7" cy="789.4" r="8.5"/><circle cx="432.6" cy="728.4" r="8.5"/><circle cx="402.8" cy="815.3" r="8.5"/><circle cx="410.5" cy="743.0" r="8.5"/><circle cx="410.9" cy="720.4" r="8.5"/><circle cx="443.1" cy="729.2" r="8.5"/><circle cx="423.8" cy="821.4" r="8.5"/><circle cx="420.0" cy="819.0" r="8.5"/><circle cx="442.9" cy="817.9" r="8.5"/><circle cx="424.5" cy="822.0" r="8.5"/></g>
<g fill="none" stroke="#1B9E77" stroke-opacity="0.4" stroke-width="1"><circle cx="383.5" cy="106.9" r="8"/><circle cx="381.9" cy="112.5" r="8"/><circle cx="395.0" cy="111.2" r="8"/><circle cx="391.2" cy="115.6" r="8"/><circle cx="394.4" cy="118.8" r="8"/><circle cx="387.5" cy="113.8" r="8"/><circle cx="384.4" cy="133.8" r="8"/><circle cx="396.2" cy="132.5" r="8"/><circle cx="403.1" cy="130.6" r="8"/><circle cx="388.1" cy="141.9" r="8"/><circle cx="392.5" cy="143.8" r="8"/><circle cx="383.1" cy="151.2" r="8"/><circle cx="385.0" cy="153.8" r="8"/><circle cx="386.9" cy="150.0" r="8"/><circle cx="405.0" cy="147.5" r="8"/><circle cx="402.5" cy="151.2" r="8"/><circle cx="408.8" cy="150.0" r="8"/><circle cx="411.9" cy="156.2" r="8"/><circle cx="392.5" cy="161.2" r="8"/><circle cx="388.1" cy="165.0" r="8"/><circle cx="390.0" cy="168.1" r="8"/><circle cx="386.2" cy="167.5" r="8"/><circle cx="390.6" cy="175.0" r="8"/><circle cx="422.5" cy="165.0" r="8"/><circle cx="384.4" cy="188.8" r="8"/><circle cx="396.9" cy="186.2" r="8"/><circle cx="388.1" cy="196.2" r="8"/><circle cx="421.2" cy="115.6" r="8"/><circle cx="416.2" cy="124.4" r="8"/><circle cx="413.8" cy="128.1" r="8"/><circle cx="418.8" cy="130.0" r="8"/><circle cx="417.5" cy="126.2" r="8"/><circle cx="433.1" cy="120.0" r="8"/><circle cx="430.0" cy="125.0" r="8"/><circle cx="435.0" cy="128.8" r="8"/><circle cx="431.2" cy="133.8" r="8"/><circle cx="433.1" cy="137.5" r="8"/><circle cx="425.6" cy="141.2" r="8"/><circle cx="432.5" cy="155.0" r="8"/><circle cx="433.1" cy="147.5" r="8"/><circle cx="447.5" cy="106.2" r="8"/><circle cx="455.0" cy="107.5" r="8"/><circle cx="471.9" cy="107.5" r="8"/><circle cx="463.8" cy="111.2" r="8"/><circle cx="450.0" cy="117.5" r="8"/><circle cx="455.0" cy="120.0" r="8"/><circle cx="452.5" cy="123.8" r="8"/><circle cx="461.2" cy="127.5" r="8"/><circle cx="465.0" cy="131.2" r="8"/><circle cx="470.0" cy="132.5" r="8"/><circle cx="480.0" cy="126.9" r="8"/><circle cx="481.2" cy="130.0" r="8"/><circle cx="475.0" cy="136.2" r="8"/><circle cx="478.8" cy="138.8" r="8"/><circle cx="483.8" cy="141.2" r="8"/><circle cx="486.2" cy="143.8" r="8"/><circle cx="471.2" cy="121.2" r="8"/><circle cx="450.0" cy="143.8" r="8"/><circle cx="461.9" cy="155.0" r="8"/><circle cx="480.0" cy="147.5" r="8"/><circle cx="482.5" cy="152.5" r="8"/><circle cx="490.0" cy="155.0" r="8"/><circle cx="477.5" cy="153.8" r="8"/><circle cx="485.0" cy="158.8" r="8"/><circle cx="473.8" cy="145.0" r="8"/><circle cx="467.5" cy="138.8" r="8"/><circle cx="457.5" cy="126.2" r="8"/><circle cx="442.5" cy="127.5" r="8"/><circle cx="447.5" cy="172.5" r="8"/><circle cx="453.8" cy="168.8" r="8"/><circle cx="450.0" cy="176.2" r="8"/><circle cx="458.8" cy="173.8" r="8"/><circle cx="463.8" cy="172.5" r="8"/><circle cx="473.8" cy="175.0" r="8"/><circle cx="471.2" cy="178.8" r="8"/><circle cx="457.5" cy="181.2" r="8"/><circle cx="478.8" cy="171.2" r="8"/><circle cx="488.1" cy="182.5" r="8"/><circle cx="487.5" cy="186.2" r="8"/><circle cx="461.2" cy="185.0" r="8"/><circle cx="416.2" cy="192.5" r="8"/><circle cx="430.0" cy="191.2" r="8"/><circle cx="435.0" cy="192.5" r="8"/><circle cx="436.9" cy="195.0" r="8"/><circle cx="427.5" cy="193.8" r="8"/><circle cx="455.0" cy="193.8" r="8"/><circle cx="470.0" cy="195.0" r="8"/><circle cx="473.8" cy="198.8" r="8"/><circle cx="467.5" cy="201.2" r="8"/><circle cx="486.2" cy="195.0" r="8"/><circle cx="490.6" cy="196.2" r="8"/><circle cx="478.8" cy="193.8" r="8"/><circle cx="387.5" cy="211.2" r="8"/><circle cx="388.8" cy="215.0" r="8"/><circle cx="390.6" cy="218.1" r="8"/><circle cx="405.0" cy="220.6" r="8"/><circle cx="395.0" cy="227.5" r="8"/><circle cx="399.4" cy="232.5" r="8"/><circle cx="397.5" cy="236.2" r="8"/><circle cx="383.1" cy="241.9" r="8"/><circle cx="386.2" cy="245.0" r="8"/><circle cx="396.2" cy="244.4" r="8"/><circle cx="383.8" cy="255.0" r="8"/><circle cx="390.0" cy="253.8" r="8"/><circle cx="392.5" cy="257.5" r="8"/><circle cx="395.0" cy="255.0" r="8"/><circle cx="391.2" cy="260.0" r="8"/><circle cx="404.4" cy="256.2" r="8"/><circle cx="418.1" cy="254.4" r="8"/><circle cx="417.5" cy="266.2" r="8"/><circle cx="416.2" cy="271.2" r="8"/><circle cx="415.0" cy="275.0" r="8"/><circle cx="413.8" cy="280.0" r="8"/><circle cx="380.6" cy="284.4" r="8"/><circle cx="391.2" cy="281.2" r="8"/><circle cx="390.0" cy="283.8" r="8"/><circle cx="403.1" cy="281.2" r="8"/><circle cx="407.5" cy="286.2" r="8"/><circle cx="393.8" cy="292.5" r="8"/><circle cx="426.2" cy="213.8" r="8"/><circle cx="423.1" cy="221.2" r="8"/><circle cx="433.8" cy="212.5" r="8"/><circle cx="435.0" cy="220.0" r="8"/><circle cx="431.2" cy="217.5" r="8"/><circle cx="433.1" cy="256.2" r="8"/><circle cx="430.0" cy="255.0" r="8"/><circle cx="448.8" cy="211.2" r="8"/><circle cx="450.0" cy="216.2" r="8"/><circle cx="447.5" cy="223.8" r="8"/><circle cx="442.5" cy="228.8" r="8"/><circle cx="446.2" cy="227.5" r="8"/><circle cx="467.5" cy="207.5" r="8"/><circle cx="475.0" cy="208.8" r="8"/><circle cx="470.0" cy="211.2" r="8"/><circle cx="480.0" cy="215.0" r="8"/><circle cx="483.8" cy="218.8" r="8"/><circle cx="485.0" cy="207.5" r="8"/><circle cx="490.6" cy="216.2" r="8"/><circle cx="473.8" cy="221.9" r="8"/><circle cx="482.5" cy="222.5" r="8"/><circle cx="491.9" cy="235.0" r="8"/><circle cx="470.6" cy="238.8" r="8"/><circle cx="458.1" cy="243.8" r="8"/><circle cx="446.9" cy="248.1" r="8"/><circle cx="453.8" cy="250.0" r="8"/><circle cx="461.2" cy="248.8" r="8"/><circle cx="465.0" cy="252.5" r="8"/><circle cx="477.5" cy="244.4" r="8"/><circle cx="490.6" cy="246.9" r="8"/><circle cx="481.2" cy="258.1" r="8"/><circle cx="442.5" cy="258.8" r="8"/><circle cx="451.2" cy="261.2" r="8"/><circle cx="453.8" cy="265.6" r="8"/><circle cx="458.8" cy="257.5" r="8"/><circle cx="470.6" cy="270.6" r="8"/><circle cx="475.0" cy="268.8" r="8"/><circle cx="490.0" cy="272.5" r="8"/><circle cx="490.6" cy="277.5" r="8"/><circle cx="445.0" cy="283.1" r="8"/><circle cx="461.2" cy="286.2" r="8"/><circle cx="465.0" cy="290.6" r="8"/><circle cx="475.0" cy="288.1" r="8"/><circle cx="484.4" cy="288.1" r="8"/><circle cx="467.5" cy="287.5" r="8"/><circle cx="415.0" cy="292.5" r="8"/><circle cx="426.2" cy="293.8" r="8"/><circle cx="422.5" cy="297.5" r="8"/><circle cx="430.0" cy="298.8" r="8"/><circle cx="437.5" cy="300.0" r="8"/><circle cx="445.0" cy="301.2" r="8"/><circle cx="385.0" cy="301.2" r="8"/><circle cx="392.5" cy="302.5" r="8"/><circle cx="395.0" cy="306.2" r="8"/><circle cx="465.0" cy="301.2" r="8"/><circle cx="475.0" cy="298.8" r="8"/><circle cx="450.3" cy="252.3" r="8"/><circle cx="448.4" cy="307.2" r="8"/><circle cx="390.1" cy="224.3" r="8"/><circle cx="392.5" cy="307.5" r="8"/><circle cx="395.0" cy="311.2" r="8"/><circle cx="391.2" cy="313.8" r="8"/><circle cx="396.9" cy="316.2" r="8"/><circle cx="410.6" cy="308.8" r="8"/><circle cx="424.4" cy="311.9" r="8"/><circle cx="381.2" cy="321.2" r="8"/><circle cx="392.5" cy="320.0" r="8"/><circle cx="467.5" cy="307.5" r="8"/><circle cx="463.8" cy="310.0" r="8"/><circle cx="478.8" cy="311.2" r="8"/><circle cx="473.8" cy="303.8" r="8"/><circle cx="450.0" cy="306.2" r="8"/><circle cx="440.0" cy="303.8" r="8"/><circle cx="432.5" cy="302.5" r="8"/><circle cx="486.2" cy="327.5" r="8"/><circle cx="444.4" cy="321.2" r="8"/><circle cx="446.2" cy="326.2" r="8"/><circle cx="442.5" cy="331.2" r="8"/><circle cx="450.0" cy="335.0" r="8"/><circle cx="447.5" cy="340.0" r="8"/><circle cx="463.8" cy="330.0" r="8"/><circle cx="465.0" cy="333.8" r="8"/><circle cx="461.2" cy="332.5" r="8"/><circle cx="470.6" cy="340.6" r="8"/><circle cx="466.9" cy="347.5" r="8"/><circle cx="424.4" cy="326.2" r="8"/><circle cx="421.2" cy="330.0" r="8"/><circle cx="428.8" cy="331.2" r="8"/><circle cx="415.0" cy="331.2" r="8"/><circle cx="408.8" cy="327.5" r="8"/><circle cx="410.0" cy="335.0" r="8"/><circle cx="405.0" cy="336.2" r="8"/><circle cx="391.2" cy="339.4" r="8"/><circle cx="400.0" cy="346.2" r="8"/><circle cx="405.0" cy="350.0" r="8"/><circle cx="410.0" cy="348.8" r="8"/><circle cx="415.0" cy="351.2" r="8"/><circle cx="420.0" cy="350.0" r="8"/><circle cx="406.2" cy="355.0" r="8"/><circle cx="412.5" cy="357.5" r="8"/><circle cx="420.0" cy="356.2" r="8"/><circle cx="425.6" cy="353.8" r="8"/><circle cx="397.5" cy="353.8" r="8"/><circle cx="441.2" cy="347.5" r="8"/><circle cx="442.5" cy="351.2" r="8"/><circle cx="440.0" cy="360.0" r="8"/><circle cx="465.0" cy="355.0" r="8"/><circle cx="478.1" cy="358.8" r="8"/><circle cx="454.4" cy="363.1" r="8"/><circle cx="452.5" cy="370.0" r="8"/><circle cx="470.0" cy="365.0" r="8"/><circle cx="478.8" cy="367.5" r="8"/><circle cx="467.5" cy="368.8" r="8"/><circle cx="383.1" cy="366.2" r="8"/><circle cx="385.0" cy="370.0" r="8"/><circle cx="380.0" cy="368.8" r="8"/><circle cx="396.2" cy="361.2" r="8"/><circle cx="401.2" cy="368.8" r="8"/><circle cx="415.0" cy="365.0" r="8"/><circle cx="419.4" cy="374.4" r="8"/><circle cx="398.8" cy="377.5" r="8"/><circle cx="387.5" cy="386.2" r="8"/><circle cx="393.8" cy="390.0" r="8"/><circle cx="392.5" cy="393.8" r="8"/><circle cx="445.0" cy="376.2" r="8"/><circle cx="442.5" cy="381.2" r="8"/><circle cx="450.0" cy="380.0" r="8"/><circle cx="458.8" cy="377.5" r="8"/><circle cx="440.0" cy="385.0" r="8"/><circle cx="447.5" cy="386.2" r="8"/><circle cx="481.2" cy="378.8" r="8"/><circle cx="483.8" cy="381.2" r="8"/><circle cx="477.5" cy="380.0" r="8"/><circle cx="490.6" cy="386.2" r="8"/><circle cx="475.0" cy="385.0" r="8"/><circle cx="411.2" cy="393.8" r="8"/><circle cx="426.2" cy="393.1" r="8"/><circle cx="448.8" cy="395.0" r="8"/><circle cx="467.5" cy="395.0" r="8"/><circle cx="487.5" cy="396.2" r="8"/><circle cx="489.4" cy="402.5" r="8"/><circle cx="407.5" cy="401.2" r="8"/><circle cx="412.5" cy="403.8" r="8"/><circle cx="436.2" cy="403.8" r="8"/><circle cx="457.5" cy="386.2" r="8"/><circle cx="435.0" cy="332.5" r="8"/><circle cx="455.0" cy="332.5" r="8"/><circle cx="396.2" cy="347.5" r="8"/><circle cx="406.9" cy="363.3" r="8"/><circle cx="394.0" cy="354.4" r="8"/><circle cx="471.9" cy="363.5" r="8"/><circle cx="467.1" cy="336.2" r="8"/><circle cx="436.7" cy="297.4" r="8"/><circle cx="380.6" cy="412.2" r="8"/><circle cx="400.0" cy="413.8" r="8"/><circle cx="396.2" cy="421.9" r="8"/><circle cx="410.0" cy="406.2" r="8"/><circle cx="415.0" cy="408.8" r="8"/><circle cx="420.0" cy="410.0" r="8"/><circle cx="436.2" cy="405.0" r="8"/><circle cx="445.0" cy="413.8" r="8"/><circle cx="442.5" cy="417.5" r="8"/><circle cx="447.5" cy="411.2" r="8"/><circle cx="467.5" cy="407.5" r="8"/><circle cx="471.2" cy="413.8" r="8"/><circle cx="465.0" cy="412.5" r="8"/><circle cx="475.0" cy="411.2" r="8"/><circle cx="487.5" cy="402.5" r="8"/><circle cx="491.2" cy="413.8" r="8"/><circle cx="486.2" cy="417.5" r="8"/><circle cx="480.0" cy="418.8" r="8"/><circle cx="491.9" cy="426.2" r="8"/><circle cx="483.8" cy="427.5" r="8"/><circle cx="470.0" cy="427.5" r="8"/><circle cx="472.5" cy="423.8" r="8"/><circle cx="465.0" cy="431.2" r="8"/><circle cx="458.8" cy="428.8" r="8"/><circle cx="456.2" cy="432.5" r="8"/><circle cx="461.2" cy="436.2" r="8"/><circle cx="478.8" cy="436.2" r="8"/><circle cx="477.5" cy="438.8" r="8"/><circle cx="417.5" cy="425.0" r="8"/><circle cx="407.5" cy="430.0" r="8"/><circle cx="410.0" cy="432.5" r="8"/><circle cx="405.0" cy="435.0" r="8"/><circle cx="425.0" cy="431.2" r="8"/><circle cx="431.2" cy="430.0" r="8"/><circle cx="421.2" cy="436.2" r="8"/><circle cx="437.5" cy="436.2" r="8"/><circle cx="440.0" cy="438.8" r="8"/><circle cx="447.5" cy="438.8" r="8"/><circle cx="452.5" cy="442.5" r="8"/><circle cx="391.2" cy="445.0" r="8"/><circle cx="396.2" cy="446.2" r="8"/><circle cx="395.0" cy="450.0" r="8"/><circle cx="407.5" cy="445.0" r="8"/><circle cx="412.5" cy="447.5" r="8"/><circle cx="416.2" cy="443.8" r="8"/><circle cx="417.5" cy="448.8" r="8"/><circle cx="423.8" cy="452.5" r="8"/><circle cx="385.0" cy="458.8" r="8"/><circle cx="393.1" cy="467.5" r="8"/><circle cx="425.0" cy="460.0" r="8"/><circle cx="422.5" cy="463.8" r="8"/><circle cx="415.0" cy="468.8" r="8"/><circle cx="440.0" cy="461.2" r="8"/><circle cx="443.8" cy="465.0" r="8"/><circle cx="447.5" cy="468.8" r="8"/><circle cx="457.5" cy="452.5" r="8"/><circle cx="458.8" cy="457.5" r="8"/><circle cx="456.2" cy="447.5" r="8"/><circle cx="465.0" cy="448.8" r="8"/><circle cx="487.5" cy="468.1" r="8"/><circle cx="450.0" cy="475.0" r="8"/><circle cx="455.0" cy="477.5" r="8"/><circle cx="463.8" cy="472.5" r="8"/><circle cx="465.0" cy="482.5" r="8"/><circle cx="388.8" cy="486.2" r="8"/><circle cx="392.5" cy="488.8" r="8"/><circle cx="395.0" cy="483.8" r="8"/><circle cx="412.5" cy="486.2" r="8"/><circle cx="415.0" cy="485.0" r="8"/><circle cx="387.5" cy="501.2" r="8"/><circle cx="397.5" cy="498.8" r="8"/><circle cx="400.0" cy="501.2" r="8"/><circle cx="396.2" cy="505.0" r="8"/><circle cx="421.2" cy="503.8" r="8"/><circle cx="423.8" cy="507.5" r="8"/><circle cx="417.5" cy="505.0" r="8"/><circle cx="463.8" cy="498.8" r="8"/><circle cx="461.2" cy="500.0" r="8"/><circle cx="485.0" cy="497.5" r="8"/><circle cx="486.2" cy="501.2" r="8"/><circle cx="483.8" cy="503.8" r="8"/><circle cx="491.2" cy="495.0" r="8"/><circle cx="408.8" cy="490.0" r="8"/><circle cx="407.5" cy="498.8" r="8"/><circle cx="409.8" cy="461.8" r="8"/><circle cx="417.2" cy="499.8" r="8"/><circle cx="414.0" cy="487.1" r="8"/><circle cx="486.8" cy="503.7" r="8"/><circle cx="491.5" cy="420.2" r="8"/><circle cx="489.3" cy="500.9" r="8"/><circle cx="402.8" cy="425.0" r="8"/><circle cx="417.2" cy="411.4" r="8"/><circle cx="383.1" cy="410.0" r="8"/><circle cx="401.9" cy="513.8" r="8"/><circle cx="420.0" cy="515.6" r="8"/><circle cx="381.2" cy="521.9" r="8"/><circle cx="386.9" cy="529.4" r="8"/><circle cx="393.1" cy="528.1" r="8"/><circle cx="381.9" cy="537.5" r="8"/><circle cx="448.1" cy="511.9" r="8"/><circle cx="448.8" cy="522.5" r="8"/><circle cx="438.8" cy="526.2" r="8"/><circle cx="436.2" cy="531.2" r="8"/><circle cx="428.8" cy="533.8" r="8"/><circle cx="426.2" cy="537.5" r="8"/><circle cx="435.0" cy="537.5" r="8"/><circle cx="440.0" cy="536.2" r="8"/><circle cx="407.5" cy="530.0" r="8"/><circle cx="410.0" cy="533.8" r="8"/><circle cx="405.0" cy="533.8" r="8"/><circle cx="401.2" cy="538.8" r="8"/><circle cx="397.5" cy="543.8" r="8"/><circle cx="391.2" cy="547.5" r="8"/><circle cx="462.5" cy="525.0" r="8"/><circle cx="467.5" cy="527.5" r="8"/><circle cx="475.0" cy="523.8" r="8"/><circle cx="480.0" cy="522.5" r="8"/><circle cx="485.0" cy="525.0" r="8"/><circle cx="465.0" cy="532.5" r="8"/><circle cx="471.2" cy="530.0" r="8"/><circle cx="455.0" cy="528.8" r="8"/><circle cx="488.8" cy="541.9" r="8"/><circle cx="470.0" cy="546.2" r="8"/><circle cx="466.2" cy="550.0" r="8"/><circle cx="471.2" cy="551.2" r="8"/><circle cx="463.8" cy="555.0" r="8"/><circle cx="449.4" cy="545.0" r="8"/><circle cx="448.8" cy="550.0" r="8"/><circle cx="452.5" cy="547.5" r="8"/><circle cx="383.1" cy="558.1" r="8"/><circle cx="391.2" cy="558.8" r="8"/><circle cx="416.2" cy="556.2" r="8"/><circle cx="412.5" cy="561.2" r="8"/><circle cx="407.5" cy="562.5" r="8"/><circle cx="428.8" cy="556.2" r="8"/><circle cx="432.5" cy="561.2" r="8"/><circle cx="427.5" cy="561.2" r="8"/><circle cx="431.2" cy="566.2" r="8"/><circle cx="435.0" cy="568.8" r="8"/><circle cx="412.5" cy="568.8" r="8"/><circle cx="415.0" cy="571.2" r="8"/><circle cx="408.8" cy="572.5" r="8"/><circle cx="417.5" cy="566.2" r="8"/><circle cx="451.2" cy="565.0" r="8"/><circle cx="453.8" cy="568.8" r="8"/><circle cx="458.8" cy="563.8" r="8"/><circle cx="467.5" cy="562.5" r="8"/><circle cx="480.0" cy="558.8" r="8"/><circle cx="486.2" cy="561.2" r="8"/><circle cx="475.0" cy="562.5" r="8"/><circle cx="481.2" cy="563.8" r="8"/><circle cx="401.2" cy="582.5" r="8"/><circle cx="407.5" cy="582.5" r="8"/><circle cx="406.2" cy="588.8" r="8"/><circle cx="408.8" cy="592.5" r="8"/><circle cx="422.5" cy="585.0" r="8"/><circle cx="432.5" cy="585.0" r="8"/><circle cx="430.0" cy="591.2" r="8"/><circle cx="428.8" cy="595.0" r="8"/><circle cx="432.5" cy="596.2" r="8"/><circle cx="448.8" cy="583.8" r="8"/><circle cx="456.2" cy="585.0" r="8"/><circle cx="455.0" cy="588.8" r="8"/><circle cx="458.8" cy="590.0" r="8"/><circle cx="475.0" cy="578.8" r="8"/><circle cx="478.8" cy="578.8" r="8"/><circle cx="486.2" cy="580.0" r="8"/><circle cx="471.2" cy="580.0" r="8"/><circle cx="490.6" cy="591.2" r="8"/><circle cx="477.5" cy="596.2" r="8"/><circle cx="383.1" cy="595.0" r="8"/><circle cx="384.4" cy="606.2" r="8"/><circle cx="398.8" cy="603.8" r="8"/><circle cx="412.5" cy="606.2" r="8"/><circle cx="420.0" cy="607.5" r="8"/><circle cx="437.5" cy="598.8" r="8"/><circle cx="450.0" cy="607.5" r="8"/><circle cx="461.2" cy="608.8" r="8"/><circle cx="478.8" cy="605.0" r="8"/><circle cx="421.2" cy="575.0" r="8"/><circle cx="465.0" cy="571.2" r="8"/><circle cx="442.5" cy="572.5" r="8"/><circle cx="480.0" cy="551.2" r="8"/><circle cx="475.7" cy="529.7" r="8"/><circle cx="454.7" cy="531.6" r="8"/><circle cx="399.8" cy="521.4" r="8"/><circle cx="459.8" cy="582.0" r="8"/><circle cx="476.9" cy="579.8" r="8"/><circle cx="395.5" cy="509.3" r="8"/><circle cx="417.0" cy="578.6" r="8"/><circle cx="456.2" cy="605.3" r="8"/><circle cx="464.1" cy="558.9" r="8"/><circle cx="432.2" cy="537.9" r="8"/><circle cx="379.5" cy="601.2" r="8"/><circle cx="436.5" cy="527.8" r="8"/><circle cx="435.3" cy="604.7" r="8"/><circle cx="451.1" cy="566.2" r="8"/><circle cx="399.1" cy="528.8" r="8"/><circle cx="395.6" cy="618.8" r="8"/><circle cx="410.6" cy="621.2" r="8"/><circle cx="396.2" cy="628.8" r="8"/><circle cx="398.8" cy="633.8" r="8"/><circle cx="402.5" cy="637.5" r="8"/><circle cx="417.5" cy="628.8" r="8"/><circle cx="422.5" cy="631.2" r="8"/><circle cx="426.2" cy="623.8" r="8"/><circle cx="440.0" cy="618.8" r="8"/><circle cx="442.5" cy="621.2" r="8"/><circle cx="446.2" cy="615.0" r="8"/><circle cx="460.0" cy="608.8" r="8"/><circle cx="478.1" cy="613.8" r="8"/><circle cx="480.0" cy="617.5" r="8"/><circle cx="475.0" cy="620.0" r="8"/><circle cx="483.8" cy="625.0" r="8"/><circle cx="455.0" cy="627.5" r="8"/><circle cx="452.5" cy="632.5" r="8"/><circle cx="461.2" cy="630.0" r="8"/><circle cx="466.2" cy="631.2" r="8"/><circle cx="471.2" cy="632.5" r="8"/><circle cx="472.5" cy="628.8" r="8"/><circle cx="468.8" cy="636.2" r="8"/><circle cx="486.2" cy="635.0" r="8"/><circle cx="458.8" cy="636.2" r="8"/><circle cx="471.2" cy="643.8" r="8"/><circle cx="440.0" cy="638.8" r="8"/><circle cx="432.5" cy="641.2" r="8"/><circle cx="428.8" cy="640.0" r="8"/><circle cx="425.0" cy="645.0" r="8"/><circle cx="425.0" cy="650.0" r="8"/><circle cx="437.5" cy="648.8" r="8"/><circle cx="452.5" cy="642.5" r="8"/><circle cx="461.2" cy="653.8" r="8"/><circle cx="487.5" cy="648.8" r="8"/><circle cx="482.5" cy="653.8" r="8"/><circle cx="383.8" cy="650.0" r="8"/><circle cx="386.2" cy="655.0" r="8"/><circle cx="400.0" cy="647.5" r="8"/><circle cx="403.8" cy="650.0" r="8"/><circle cx="401.2" cy="645.0" r="8"/><circle cx="390.0" cy="662.5" r="8"/><circle cx="392.5" cy="665.0" r="8"/><circle cx="396.2" cy="661.2" r="8"/><circle cx="401.2" cy="660.0" r="8"/><circle cx="405.0" cy="662.5" r="8"/><circle cx="398.8" cy="667.5" r="8"/><circle cx="402.5" cy="670.0" r="8"/><circle cx="407.5" cy="667.5" r="8"/><circle cx="392.5" cy="671.2" r="8"/><circle cx="397.5" cy="675.0" r="8"/><circle cx="387.5" cy="675.0" r="8"/><circle cx="386.2" cy="681.2" r="8"/><circle cx="398.8" cy="677.5" r="8"/><circle cx="382.5" cy="663.8" r="8"/><circle cx="410.0" cy="675.0" r="8"/><circle cx="417.5" cy="660.0" r="8"/><circle cx="426.2" cy="671.2" r="8"/><circle cx="432.5" cy="673.8" r="8"/><circle cx="445.0" cy="662.5" r="8"/><circle cx="442.5" cy="667.5" r="8"/><circle cx="455.0" cy="668.8" r="8"/><circle cx="458.8" cy="665.0" r="8"/><circle cx="469.4" cy="671.9" r="8"/><circle cx="485.0" cy="668.8" r="8"/><circle cx="446.2" cy="682.5" r="8"/><circle cx="445.0" cy="685.0" r="8"/><circle cx="416.2" cy="688.8" r="8"/><circle cx="398.8" cy="695.0" r="8"/><circle cx="405.0" cy="697.5" r="8"/><circle cx="416.2" cy="698.8" r="8"/><circle cx="417.5" cy="702.5" r="8"/><circle cx="415.0" cy="705.0" r="8"/><circle cx="462.5" cy="690.0" r="8"/><circle cx="465.0" cy="692.5" r="8"/><circle cx="460.0" cy="696.2" r="8"/><circle cx="457.5" cy="700.0" r="8"/><circle cx="472.5" cy="687.5" r="8"/><circle cx="478.8" cy="686.2" r="8"/><circle cx="491.9" cy="690.0" r="8"/><circle cx="437.5" cy="696.2" r="8"/><circle cx="482.5" cy="705.0" r="8"/><circle cx="485.0" cy="706.2" r="8"/><circle cx="480.0" cy="707.5" r="8"/><circle cx="383.8" cy="708.8" r="8"/><circle cx="390.0" cy="707.5" r="8"/><circle cx="440.0" cy="707.5" r="8"/><circle cx="402.5" cy="655.0" r="8"/><circle cx="397.5" cy="657.5" r="8"/><circle cx="407.5" cy="657.5" r="8"/><circle cx="465.0" cy="638.8" r="8"/><circle cx="475.0" cy="636.2" r="8"/><circle cx="453.2" cy="677.8" r="8"/><circle cx="405.6" cy="634.2" r="8"/><circle cx="483.8" cy="650.1" r="8"/><circle cx="459.4" cy="695.2" r="8"/><circle cx="408.3" cy="631.0" r="8"/><circle cx="412.2" cy="662.3" r="8"/><circle cx="405.0" cy="696.8" r="8"/><circle cx="409.5" cy="704.1" r="8"/><circle cx="483.0" cy="610.9" r="8"/><circle cx="410.7" cy="654.9" r="8"/><circle cx="439.3" cy="707.3" r="8"/><circle cx="444.7" cy="682.1" r="8"/><circle cx="456.3" cy="652.0" r="8"/><circle cx="413.9" cy="659.3" r="8"/><circle cx="396.5" cy="661.7" r="8"/><circle cx="490.2" cy="640.1" r="8"/><circle cx="429.0" cy="653.8" r="8"/><circle cx="471.7" cy="675.5" r="8"/><circle cx="440.4" cy="645.7" r="8"/><circle cx="406.3" cy="672.7" r="8"/><circle cx="477.5" cy="645.8" r="8"/><circle cx="419.4" cy="671.9" r="8"/><circle cx="387.5" cy="708.8" r="8"/><circle cx="382.5" cy="710.0" r="8"/><circle cx="383.8" cy="718.8" r="8"/><circle cx="380.0" cy="722.5" r="8"/><circle cx="386.2" cy="723.8" r="8"/><circle cx="390.0" cy="720.0" r="8"/><circle cx="381.2" cy="727.5" r="8"/><circle cx="393.8" cy="725.0" r="8"/><circle cx="398.8" cy="728.8" r="8"/><circle cx="401.2" cy="715.0" r="8"/><circle cx="410.0" cy="718.8" r="8"/><circle cx="415.0" cy="725.0" r="8"/><circle cx="427.5" cy="722.5" r="8"/><circle cx="431.2" cy="727.5" r="8"/><circle cx="436.2" cy="711.2" r="8"/><circle cx="440.0" cy="708.8" r="8"/><circle cx="441.2" cy="723.8" r="8"/><circle cx="445.0" cy="726.2" r="8"/><circle cx="447.5" cy="728.8" r="8"/><circle cx="442.5" cy="732.5" r="8"/><circle cx="452.5" cy="736.2" r="8"/><circle cx="457.5" cy="738.8" r="8"/><circle cx="473.8" cy="713.8" r="8"/><circle cx="473.8" cy="721.2" r="8"/><circle cx="471.2" cy="727.5" r="8"/><circle cx="490.0" cy="729.4" r="8"/><circle cx="485.0" cy="707.5" r="8"/><circle cx="480.0" cy="706.2" r="8"/><circle cx="391.2" cy="748.8" r="8"/><circle cx="392.5" cy="751.2" r="8"/><circle cx="402.5" cy="745.0" r="8"/><circle cx="405.0" cy="750.0" r="8"/><circle cx="402.5" cy="755.0" r="8"/><circle cx="407.5" cy="757.5" r="8"/><circle cx="418.8" cy="741.2" r="8"/><circle cx="421.2" cy="745.0" r="8"/><circle cx="416.2" cy="747.5" r="8"/><circle cx="421.2" cy="760.0" r="8"/><circle cx="425.0" cy="766.2" r="8"/><circle cx="417.5" cy="762.5" r="8"/><circle cx="437.5" cy="747.5" r="8"/><circle cx="447.5" cy="750.0" r="8"/><circle cx="446.2" cy="756.2" r="8"/><circle cx="436.2" cy="762.5" r="8"/><circle cx="457.5" cy="753.8" r="8"/><circle cx="461.2" cy="760.0" r="8"/><circle cx="463.8" cy="765.0" r="8"/><circle cx="467.5" cy="747.5" r="8"/><circle cx="482.5" cy="745.0" r="8"/><circle cx="486.2" cy="751.2" r="8"/><circle cx="481.2" cy="756.2" r="8"/><circle cx="485.0" cy="758.8" r="8"/><circle cx="385.0" cy="768.1" r="8"/><circle cx="408.8" cy="772.5" r="8"/><circle cx="406.2" cy="776.2" r="8"/><circle cx="411.2" cy="777.5" r="8"/><circle cx="396.2" cy="780.0" r="8"/><circle cx="395.0" cy="786.2" r="8"/><circle cx="397.5" cy="790.0" r="8"/><circle cx="387.5" cy="788.8" r="8"/><circle cx="392.5" cy="790.0" r="8"/><circle cx="435.0" cy="781.2" r="8"/><circle cx="432.5" cy="787.5" r="8"/><circle cx="451.2" cy="781.2" r="8"/><circle cx="458.8" cy="777.5" r="8"/><circle cx="473.8" cy="778.8" r="8"/><circle cx="471.2" cy="782.5" r="8"/><circle cx="480.0" cy="775.0" r="8"/><circle cx="463.8" cy="791.2" r="8"/><circle cx="467.5" cy="795.0" r="8"/><circle cx="477.5" cy="792.5" r="8"/><circle cx="482.5" cy="795.0" r="8"/><circle cx="422.5" cy="792.5" r="8"/><circle cx="425.0" cy="796.2" r="8"/><circle cx="428.8" cy="791.2" r="8"/><circle cx="430.0" cy="798.8" r="8"/><circle cx="381.2" cy="805.0" r="8"/><circle cx="398.8" cy="802.5" r="8"/><circle cx="405.0" cy="806.2" r="8"/><circle cx="402.5" cy="810.0" r="8"/><circle cx="446.2" cy="798.8" r="8"/><circle cx="445.0" cy="803.8" r="8"/><circle cx="465.0" cy="810.0" r="8"/><circle cx="480.0" cy="803.8" r="8"/><circle cx="467.5" cy="813.8" r="8"/><circle cx="420.0" cy="813.8" r="8"/><circle cx="437.5" cy="813.8" r="8"/><circle cx="396.2" cy="813.8" r="8"/><circle cx="388.8" cy="813.8" r="8"/><circle cx="452.5" cy="767.5" r="8"/><circle cx="407.5" cy="732.5" r="8"/><circle cx="462.5" cy="743.8" r="8"/><circle cx="473.7" cy="727.0" r="8"/><circle cx="432.1" cy="802.9" r="8"/><circle cx="409.5" cy="760.8" r="8"/><circle cx="379.5" cy="809.8" r="8"/><circle cx="448.9" cy="805.4" r="8"/><circle cx="389.0" cy="814.2" r="8"/><circle cx="444.7" cy="714.9" r="8"/><circle cx="460.2" cy="756.8" r="8"/><circle cx="469.2" cy="782.7" r="8"/><circle cx="387.3" cy="767.0" r="8"/><circle cx="400.1" cy="781.9" r="8"/><circle cx="452.1" cy="772.7" r="8"/><circle cx="419.6" cy="758.6" r="8"/><circle cx="436.8" cy="774.8" r="8"/><circle cx="443.7" cy="743.8" r="8"/><circle cx="412.4" cy="720.5" r="8"/><circle cx="438.5" cy="725.8" r="8"/><circle cx="420.3" cy="742.5" r="8"/><circle cx="463.1" cy="731.8" r="8"/><circle cx="418.1" cy="758.7" r="8"/><circle cx="405.9" cy="713.2" r="8"/><circle cx="381.6" cy="716.8" r="8"/><circle cx="482.8" cy="759.9" r="8"/><circle cx="457.0" cy="766.4" r="8"/><circle cx="430.7" cy="789.4" r="8"/><circle cx="432.6" cy="728.4" r="8"/><circle cx="402.8" cy="815.3" r="8"/><circle cx="410.5" cy="743.0" r="8"/><circle cx="410.9" cy="720.4" r="8"/><circle cx="443.1" cy="729.2" r="8"/><circle cx="423.8" cy="821.4" r="8"/><circle cx="420.0" cy="819.0" r="8"/><circle cx="442.9" cy="817.9" r="8"/><circle cx="424.5" cy="822.0" r="8"/></g>
<g fill="#D95F02" fill-opacity="0.4"><circle cx="982.5" cy="111.2" r="8.5"/><circle cx="945.6" cy="126.2" r="8.5"/><circle cx="946.2" cy="128.8" r="8.5"/><circle cx="947.5" cy="135.0" r="8.5"/><circle cx="958.1" cy="125.6" r="8.5"/><circle cx="964.4" cy="122.5" r="8.5"/><circle cx="975.4" cy="136.2" r="8.5"/><circle cx="991.5" cy="138.1" r="8.5"/><circle cx="1011.2" cy="124.4" r="8.5"/><circle cx="1013.5" cy="128.1" r="8.5"/><circle cx="1014.4" cy="144.4" r="8.5"/><circle cx="1040.6" cy="119.4" r="8.5"/><circle cx="1036.9" cy="123.8" r="8.5"/><circle cx="1050.6" cy="133.1" r="8.5"/><circle cx="1036.2" cy="141.2" r="8.5"/><circle cx="965.0" cy="155.2" r="8.5"/><circle cx="973.8" cy="154.4" r="8.5"/><circle cx="983.1" cy="152.5" r="8.5"/><circle cx="984.4" cy="156.2" r="8.5"/><circle cx="946.5" cy="171.5" r="8.5"/><circle cx="965.4" cy="175.2" r="8.5"/><circle cx="991.5" cy="173.1" r="8.5"/><circle cx="991.2" cy="180.6" r="8.5"/><circle cx="1008.5" cy="175.2" r="8.5"/><circle cx="1043.5" cy="179.0" r="8.5"/><circle cx="970.6" cy="192.5" r="8.5"/><circle cx="1024.8" cy="192.2" r="8.5"/><circle cx="1031.2" cy="192.5" r="8.5"/><circle cx="1045.6" cy="191.2" r="8.5"/><circle cx="1038.1" cy="196.2" r="8.5"/><circle cx="994.4" cy="197.5" r="8.5"/><circle cx="985.6" cy="204.4" r="8.5"/><circle cx="988.8" cy="207.5" r="8.5"/><circle cx="1001.9" cy="201.9" r="8.5"/><circle cx="1010.6" cy="203.1" r="8.5"/><circle cx="1015.6" cy="210.6" r="8.5"/><circle cx="996.2" cy="216.2" r="8.5"/><circle cx="988.8" cy="223.8" r="8.5"/><circle cx="1039.4" cy="203.8" r="8.5"/><circle cx="1038.8" cy="211.2" r="8.5"/><circle cx="1033.8" cy="213.8" r="8.5"/><circle cx="1040.0" cy="216.9" r="8.5"/><circle cx="1045.6" cy="219.4" r="8.5"/><circle cx="1041.9" cy="220.0" r="8.5"/><circle cx="961.9" cy="211.9" r="8.5"/><circle cx="960.6" cy="216.9" r="8.5"/><circle cx="961.9" cy="221.9" r="8.5"/><circle cx="939.4" cy="225.4" r="8.5"/><circle cx="950.6" cy="225.0" r="8.5"/><circle cx="953.8" cy="224.4" r="8.5"/><circle cx="959.4" cy="237.5" r="8.5"/><circle cx="966.2" cy="240.6" r="8.5"/><circle cx="981.2" cy="241.2" r="8.5"/><circle cx="980.6" cy="246.2" r="8.5"/><circle cx="990.0" cy="240.0" r="8.5"/><circle cx="991.2" cy="244.4" r="8.5"/><circle cx="990.0" cy="251.2" r="8.5"/><circle cx="996.9" cy="242.5" r="8.5"/><circle cx="1015.0" cy="243.1" r="8.5"/><circle cx="1013.8" cy="246.9" r="8.5"/><circle cx="1016.9" cy="245.0" r="8.5"/><circle cx="1020.0" cy="250.6" r="8.5"/><circle cx="1025.6" cy="238.1" r="8.5"/><circle cx="1041.9" cy="235.6" r="8.5"/><circle cx="944.4" cy="255.0" r="8.5"/><circle cx="941.9" cy="266.2" r="8.5"/><circle cx="945.0" cy="265.0" r="8.5"/><circle cx="946.9" cy="268.1" r="8.5"/><circle cx="952.5" cy="271.2" r="8.5"/><circle cx="968.8" cy="263.1" r="8.5"/><circle cx="970.0" cy="268.8" r="8.5"/><circle cx="971.9" cy="271.2" r="8.5"/><circle cx="1001.9" cy="261.2" r="8.5"/><circle cx="956.2" cy="280.0" r="8.5"/><circle cx="965.0" cy="282.5" r="8.5"/><circle cx="973.8" cy="281.2" r="8.5"/><circle cx="977.5" cy="276.2" r="8.5"/><circle cx="985.0" cy="284.4" r="8.5"/><circle cx="973.8" cy="290.6" r="8.5"/><circle cx="1017.5" cy="286.9" r="8.5"/><circle cx="1050.6" cy="291.9" r="8.5"/><circle cx="945.2" cy="300.2" r="8.5"/><circle cx="961.5" cy="297.5" r="8.5"/><circle cx="1034.4" cy="302.8" r="8.5"/><circle cx="993.5" cy="303.8" r="8.5"/><circle cx="992.5" cy="315.6" r="8.5"/><circle cx="974.4" cy="318.8" r="8.5"/><circle cx="969.4" cy="323.8" r="8.5"/><circle cx="1013.1" cy="310.0" r="8.5"/><circle cx="1010.6" cy="316.2" r="8.5"/><circle cx="1020.6" cy="317.5" r="8.5"/><circle cx="1006.9" cy="323.1" r="8.5"/><circle cx="1045.6" cy="322.2" r="8.5"/><circle cx="1032.5" cy="331.2" r="8.5"/><circle cx="1005.0" cy="334.4" r="8.5"/><circle cx="1012.5" cy="332.5" r="8.5"/><circle cx="1008.5" cy="348.5" r="8.5"/><circle cx="943.5" cy="346.9" r="8.5"/><circle cx="951.5" cy="353.4" r="8.5"/><circle cx="970.2" cy="343.1" r="8.5"/><circle cx="978.5" cy="347.2" r="8.5"/><circle cx="976.5" cy="356.2" r="8.5"/><circle cx="1039.4" cy="356.2" r="8.5"/><circle cx="1005.6" cy="369.4" r="8.5"/><circle cx="1002.5" cy="373.8" r="8.5"/><circle cx="1033.8" cy="370.6" r="8.5"/><circle cx="1028.1" cy="376.2" r="8.5"/><circle cx="1017.5" cy="379.4" r="8.5"/><circle cx="1013.8" cy="388.1" r="8.5"/><circle cx="942.2" cy="381.2" r="8.5"/><circle cx="941.2" cy="387.5" r="8.5"/><circle cx="948.8" cy="387.5" r="8.5"/><circle cx="960.6" cy="379.4" r="8.5"/><circle cx="963.8" cy="385.0" r="8.5"/><circle cx="975.6" cy="389.4" r="8.5"/><circle cx="996.2" cy="391.2" r="8.5"/><circle cx="998.1" cy="393.1" r="8.5"/><circle cx="1038.5" cy="394.4" r="8.5"/><circle cx="976.5" cy="404.4" r="8.5"/><circle cx="1050.6" cy="403.1" r="8.5"/><circle cx="996.0" cy="410.6" r="8.5"/><circle cx="996.5" cy="411.5" r="8.5"/><circle cx="1020.6" cy="414.4" r="8.5"/><circle cx="1037.5" cy="411.9" r="8.5"/><circle cx="976.5" cy="418.1" r="8.5"/><circle cx="1033.8" cy="421.9" r="8.5"/><circle cx="1035.6" cy="423.8" r="8.5"/><circle cx="1028.1" cy="424.4" r="8.5"/><circle cx="1040.0" cy="424.4" r="8.5"/><circle cx="1037.5" cy="434.4" r="8.5"/><circle cx="956.5" cy="427.2" r="8.5"/><circle cx="939.4" cy="432.5" r="8.5"/><circle cx="943.1" cy="436.2" r="8.5"/><circle cx="974.4" cy="430.6" r="8.5"/><circle cx="993.1" cy="431.2" r="8.5"/><circle cx="989.4" cy="436.9" r="8.5"/><circle cx="1010.6" cy="428.8" r="8.5"/><circle cx="1002.5" cy="436.2" r="8.5"/><circle cx="1033.1" cy="450.0" r="8.5"/><circle cx="1033.8" cy="451.9" r="8.5"/><circle cx="947.2" cy="453.8" r="8.5"/><circle cx="960.2" cy="450.0" r="8.5"/><circle cx="968.8" cy="452.5" r="8.5"/><circle cx="1003.8" cy="451.9" r="8.5"/><circle cx="973.8" cy="461.9" r="8.5"/><circle cx="943.8" cy="469.4" r="8.5"/><circle cx="954.4" cy="470.0" r="8.5"/><circle cx="1005.0" cy="463.1" r="8.5"/><circle cx="948.5" cy="481.2" r="8.5"/><circle cx="968.1" cy="480.0" r="8.5"/><circle cx="975.6" cy="482.5" r="8.5"/><circle cx="978.8" cy="488.1" r="8.5"/><circle cx="983.1" cy="491.2" r="8.5"/><circle cx="973.8" cy="487.5" r="8.5"/><circle cx="1011.9" cy="479.4" r="8.5"/><circle cx="1031.9" cy="480.2" r="8.5"/><circle cx="1001.2" cy="488.1" r="8.5"/><circle cx="948.5" cy="495.0" r="8.5"/><circle cx="1008.1" cy="496.9" r="8.5"/><circle cx="968.8" cy="500.0" r="8.5"/><circle cx="1047.8" cy="499.8" r="8.5"/><circle cx="961.2" cy="505.6" r="8.5"/><circle cx="956.9" cy="507.5" r="8.5"/><circle cx="1033.8" cy="505.0" r="8.5"/><circle cx="1007.5" cy="507.5" r="8.5"/><circle cx="985.6" cy="509.4" r="8.5"/><circle cx="940.5" cy="515.0" r="8.5"/><circle cx="991.2" cy="485.0" r="8.5"/><circle cx="1014.4" cy="516.2" r="8.5"/><circle cx="1026.9" cy="520.6" r="8.5"/><circle cx="978.1" cy="521.2" r="8.5"/><circle cx="993.8" cy="519.4" r="8.5"/><circle cx="990.6" cy="525.6" r="8.5"/><circle cx="1015.0" cy="527.5" r="8.5"/><circle cx="1019.4" cy="525.0" r="8.5"/><circle cx="1016.5" cy="535.0" r="8.5"/><circle cx="961.5" cy="532.2" r="8.5"/><circle cx="948.5" cy="541.2" r="8.5"/><circle cx="995.6" cy="542.2" r="8.5"/><circle cx="1006.5" cy="550.2" r="8.5"/><circle cx="966.2" cy="551.2" r="8.5"/><circle cx="981.2" cy="558.1" r="8.5"/><circle cx="987.5" cy="559.4" r="8.5"/><circle cx="998.5" cy="564.4" r="8.5"/><circle cx="1034.4" cy="552.2" r="8.5"/><circle cx="1031.2" cy="555.0" r="8.5"/><circle cx="1029.4" cy="558.1" r="8.5"/><circle cx="970.2" cy="573.5" r="8.5"/><circle cx="980.2" cy="580.4" r="8.5"/><circle cx="940.6" cy="586.2" r="8.5"/><circle cx="953.8" cy="587.5" r="8.5"/><circle cx="943.5" cy="593.5" r="8.5"/><circle cx="1017.5" cy="585.2" r="8.5"/><circle cx="1014.4" cy="589.4" r="8.5"/><circle cx="1028.5" cy="587.5" r="8.5"/><circle cx="1042.5" cy="584.0" r="8.5"/><circle cx="1047.5" cy="588.5" r="8.5"/><circle cx="1001.5" cy="603.1" r="8.5"/><circle cx="994.4" cy="608.8" r="8.5"/><circle cx="1030.6" cy="605.2" r="8.5"/><circle cx="1001.2" cy="612.5" r="8.5"/><circle cx="995.0" cy="621.2" r="8.5"/><circle cx="1034.4" cy="616.2" r="8.5"/><circle cx="1049.4" cy="617.2" r="8.5"/><circle cx="1038.8" cy="621.9" r="8.5"/><circle cx="1042.5" cy="628.8" r="8.5"/><circle cx="971.9" cy="624.4" r="8.5"/><circle cx="962.5" cy="629.4" r="8.5"/><circle cx="970.0" cy="631.2" r="8.5"/><circle cx="957.5" cy="634.4" r="8.5"/><circle cx="975.6" cy="636.2" r="8.5"/><circle cx="965.0" cy="637.5" r="8.5"/><circle cx="958.8" cy="640.6" r="8.5"/><circle cx="970.0" cy="643.1" r="8.5"/><circle cx="1007.5" cy="636.2" r="8.5"/><circle cx="1004.4" cy="638.8" r="8.5"/><circle cx="1013.8" cy="647.5" r="8.5"/><circle cx="1020.0" cy="656.2" r="8.5"/><circle cx="989.4" cy="650.0" r="8.5"/><circle cx="991.9" cy="656.2" r="8.5"/><circle cx="968.8" cy="650.0" r="8.5"/><circle cx="968.8" cy="656.2" r="8.5"/><circle cx="966.2" cy="662.5" r="8.5"/><circle cx="971.2" cy="662.5" r="8.5"/><circle cx="973.8" cy="667.5" r="8.5"/><circle cx="948.5" cy="657.8" r="8.5"/><circle cx="947.8" cy="669.8" r="8.5"/><circle cx="1018.8" cy="666.9" r="8.5"/><circle cx="1003.5" cy="669.4" r="8.5"/><circle cx="980.0" cy="668.8" r="8.5"/><circle cx="976.2" cy="673.1" r="8.5"/><circle cx="985.0" cy="675.0" r="8.5"/><circle cx="988.8" cy="680.0" r="8.5"/><circle cx="992.5" cy="685.0" r="8.5"/><circle cx="996.9" cy="685.0" r="8.5"/><circle cx="996.2" cy="691.9" r="8.5"/><circle cx="954.8" cy="684.0" r="8.5"/><circle cx="941.2" cy="693.8" r="8.5"/><circle cx="941.9" cy="699.4" r="8.5"/><circle cx="956.9" cy="697.5" r="8.5"/><circle cx="963.1" cy="698.1" r="8.5"/><circle cx="982.5" cy="695.0" r="8.5"/><circle cx="984.4" cy="697.5" r="8.5"/><circle cx="981.2" cy="699.4" r="8.5"/><circle cx="1019.4" cy="689.4" r="8.5"/><circle cx="1026.9" cy="687.5" r="8.5"/><circle cx="1042.8" cy="685.2" r="8.5"/><circle cx="966.5" cy="714.4" r="8.5"/><circle cx="990.6" cy="722.2" r="8.5"/><circle cx="1011.0" cy="716.2" r="8.5"/><circle cx="1030.6" cy="711.9" r="8.5"/><circle cx="1026.2" cy="718.8" r="8.5"/><circle cx="1028.8" cy="721.2" r="8.5"/><circle cx="1023.1" cy="722.5" r="8.5"/><circle cx="1033.1" cy="723.1" r="8.5"/><circle cx="1021.2" cy="725.6" r="8.5"/><circle cx="1004.0" cy="733.1" r="8.5"/><circle cx="1018.5" cy="733.1" r="8.5"/><circle cx="1037.5" cy="732.5" r="8.5"/><circle cx="941.2" cy="726.2" r="8.5"/><circle cx="943.8" cy="735.0" r="8.5"/><circle cx="940.6" cy="740.0" r="8.5"/><circle cx="940.0" cy="742.5" r="8.5"/><circle cx="959.0" cy="749.0" r="8.5"/><circle cx="966.2" cy="745.0" r="8.5"/><circle cx="973.1" cy="746.9" r="8.5"/><circle cx="980.6" cy="751.5" r="8.5"/><circle cx="1039.4" cy="746.0" r="8.5"/><circle cx="1045.6" cy="745.0" r="8.5"/><circle cx="1042.5" cy="756.2" r="8.5"/><circle cx="1018.5" cy="755.6" r="8.5"/><circle cx="1047.5" cy="776.2" r="8.5"/><circle cx="943.1" cy="778.8" r="8.5"/><circle cx="948.1" cy="782.5" r="8.5"/><circle cx="948.1" cy="791.2" r="8.5"/><circle cx="960.6" cy="778.8" r="8.5"/><circle cx="963.1" cy="781.2" r="8.5"/><circle cx="965.6" cy="783.8" r="8.5"/><circle cx="973.8" cy="776.2" r="8.5"/><circle cx="1000.6" cy="785.0" r="8.5"/><circle cx="998.8" cy="788.1" r="8.5"/><circle cx="994.4" cy="793.8" r="8.5"/><circle cx="974.8" cy="799.4" r="8.5"/><circle cx="1004.4" cy="800.0" r="8.5"/><circle cx="1010.0" cy="803.1" r="8.5"/><circle cx="950.6" cy="816.9" r="8.5"/><circle cx="976.2" cy="816.2" r="8.5"/><circle cx="1033.8" cy="822.0" r="8.5"/><circle cx="1034.5" cy="822.3" r="8.5"/><circle cx="1033.0" cy="821.5" r="8.5"/><circle cx="1039.0" cy="207.0" r="8.5"/><circle cx="1042.0" cy="214.0" r="8.5"/><circle cx="946.0" cy="266.5" r="8.5"/><circle cx="968.5" cy="653.0" r="8.5"/><circle cx="970.0" cy="659.0" r="8.5"/><circle cx="975.0" cy="670.0" r="8.5"/><circle cx="1027.0" cy="720.0" r="8.5"/><circle cx="1025.0" cy="724.0" r="8.5"/><circle cx="982.0" cy="696.0" r="8.5"/><circle cx="978.0" cy="489.5" r="8.5"/><circle cx="1034.0" cy="423.0" r="8.5"/></g>
<g fill="none" stroke="#D95F02" stroke-opacity="0.4" stroke-width="1"><circle cx="982.5" cy="111.2" r="8"/><circle cx="945.6" cy="126.2" r="8"/><circle cx="946.2" cy="128.8" r="8"/><circle cx="947.5" cy="135.0" r="8"/><circle cx="958.1" cy="125.6" r="8"/><circle cx="964.4" cy="122.5" r="8"/><circle cx="975.4" cy="136.2" r="8"/><circle cx="991.5" cy="138.1" r="8"/><circle cx="1011.2" cy="124.4" r="8"/><circle cx="1013.5" cy="128.1" r="8"/><circle cx="1014.4" cy="144.4" r="8"/><circle cx="1040.6" cy="119.4" r="8"/><circle cx="1036.9" cy="123.8" r="8"/><circle cx="1050.6" cy="133.1" r="8"/><circle cx="1036.2" cy="141.2" r="8"/><circle cx="965.0" cy="155.2" r="8"/><circle cx="973.8" cy="154.4" r="8"/><circle cx="983.1" cy="152.5" r="8"/><circle cx="984.4" cy="156.2" r="8"/><circle cx="946.5" cy="171.5" r="8"/><circle cx="965.4" cy="175.2" r="8"/><circle cx="991.5" cy="173.1" r="8"/><circle cx="991.2" cy="180.6" r="8"/><circle cx="1008.5" cy="175.2" r="8"/><circle cx="1043.5" cy="179.0" r="8"/><circle cx="970.6" cy="192.5" r="8"/><circle cx="1024.8" cy="192.2" r="8"/><circle cx="1031.2" cy="192.5" r="8"/><circle cx="1045.6" cy="191.2" r="8"/><circle cx="1038.1" cy="196.2" r="8"/><circle cx="994.4" cy="197.5" r="8"/><circle cx="985.6" cy="204.4" r="8"/><circle cx="988.8" cy="207.5" r="8"/><circle cx="1001.9" cy="201.9" r="8"/><circle cx="1010.6" cy="203.1" r="8"/><circle cx="1015.6" cy="210.6" r="8"/><circle cx="996.2" cy="216.2" r="8"/><circle cx="988.8" cy="223.8" r="8"/><circle cx="1039.4" cy="203.8" r="8"/><circle cx="1038.8" cy="211.2" r="8"/><circle cx="1033.8" cy="213.8" r="8"/><circle cx="1040.0" cy="216.9" r="8"/><circle cx="1045.6" cy="219.4" r="8"/><circle cx="1041.9" cy="220.0" r="8"/><circle cx="961.9" cy="211.9" r="8"/><circle cx="960.6" cy="216.9" r="8"/><circle cx="961.9" cy="221.9" r="8"/><circle cx="939.4" cy="225.4" r="8"/><circle cx="950.6" cy="225.0" r="8"/><circle cx="953.8" cy="224.4" r="8"/><circle cx="959.4" cy="237.5" r="8"/><circle cx="966.2" cy="240.6" r="8"/><circle cx="981.2" cy="241.2" r="8"/><circle cx="980.6" cy="246.2" r="8"/><circle cx="990.0" cy="240.0" r="8"/><circle cx="991.2" cy="244.4" r="8"/><circle cx="990.0" cy="251.2" r="8"/><circle cx="996.9" cy="242.5" r="8"/><circle cx="1015.0" cy="243.1" r="8"/><circle cx="1013.8" cy="246.9" r="8"/><circle cx="1016.9" cy="245.0" r="8"/><circle cx="1020.0" cy="250.6" r="8"/><circle cx="1025.6" cy="238.1" r="8"/><circle cx="1041.9" cy="235.6" r="8"/><circle cx="944.4" cy="255.0" r="8"/><circle cx="941.9" cy="266.2" r="8"/><circle cx="945.0" cy="265.0" r="8"/><circle cx="946.9" cy="268.1" r="8"/><circle cx="952.5" cy="271.2" r="8"/><circle cx="968.8" cy="263.1" r="8"/><circle cx="970.0" cy="268.8" r="8"/><circle cx="971.9" cy="271.2" r="8"/><circle cx="1001.9" cy="261.2" r="8"/><circle cx="956.2" cy="280.0" r="8"/><circle cx="965.0" cy="282.5" r="8"/><circle cx="973.8" cy="281.2" r="8"/><circle cx="977.5" cy="276.2" r="8"/><circle cx="985.0" cy="284.4" r="8"/><circle cx="973.8" cy="290.6" r="8"/><circle cx="1017.5" cy="286.9" r="8"/><circle cx="1050.6" cy="291.9" r="8"/><circle cx="945.2" cy="300.2" r="8"/><circle cx="961.5" cy="297.5" r="8"/><circle cx="1034.4" cy="302.8" r="8"/><circle cx="993.5" cy="303.8" r="8"/><circle cx="992.5" cy="315.6" r="8"/><circle cx="974.4" cy="318.8" r="8"/><circle cx="969.4" cy="323.8" r="8"/><circle cx="1013.1" cy="310.0" r="8"/><circle cx="1010.6" cy="316.2" r="8"/><circle cx="1020.6" cy="317.5" r="8"/><circle cx="1006.9" cy="323.1" r="8"/><circle cx="1045.6" cy="322.2" r="8"/><circle cx="1032.5" cy="331.2" r="8"/><circle cx="1005.0" cy="334.4" r="8"/><circle cx="1012.5" cy="332.5" r="8"/><circle cx="1008.5" cy="348.5" r="8"/><circle cx="943.5" cy="346.9" r="8"/><circle cx="951.5" cy="353.4" r="8"/><circle cx="970.2" cy="343.1" r="8"/><circle cx="978.5" cy="347.2" r="8"/><circle cx="976.5" cy="356.2" r="8"/><circle cx="1039.4" cy="356.2" r="8"/><circle cx="1005.6" cy="369.4" r="8"/><circle cx="1002.5" cy="373.8" r="8"/><circle cx="1033.8" cy="370.6" r="8"/><circle cx="1028.1" cy="376.2" r="8"/><circle cx="1017.5" cy="379.4" r="8"/><circle cx="1013.8" cy="388.1" r="8"/><circle cx="942.2" cy="381.2" r="8"/><circle cx="941.2" cy="387.5" r="8"/><circle cx="948.8" cy="387.5" r="8"/><circle cx="960.6" cy="379.4" r="8"/><circle cx="963.8" cy="385.0" r="8"/><circle cx="975.6" cy="389.4" r="8"/><circle cx="996.2" cy="391.2" r="8"/><circle cx="998.1" cy="393.1" r="8"/><circle cx="1038.5" cy="394.4" r="8"/><circle cx="976.5" cy="404.4" r="8"/><circle cx="1050.6" cy="403.1" r="8"/><circle cx="996.0" cy="410.6" r="8"/><circle cx="996.5" cy="411.5" r="8"/><circle cx="1020.6" cy="414.4" r="8"/><circle cx="1037.5" cy="411.9" r="8"/><circle cx="976.5" cy="418.1" r="8"/><circle cx="1033.8" cy="421.9" r="8"/><circle cx="1035.6" cy="423.8" r="8"/><circle cx="1028.1" cy="424.4" r="8"/><circle cx="1040.0" cy="424.4" r="8"/><circle cx="1037.5" cy="434.4" r="8"/><circle cx="956.5" cy="427.2" r="8"/><circle cx="939.4" cy="432.5" r="8"/><circle cx="943.1" cy="436.2" r="8"/><circle cx="974.4" cy="430.6" r="8"/><circle cx="993.1" cy="431.2" r="8"/><circle cx="989.4" cy="436.9" r="8"/><circle cx="1010.6" cy="428.8" r="8"/><circle cx="1002.5" cy="436.2" r="8"/><circle cx="1033.1" cy="450.0" r="8"/><circle cx="1033.8" cy="451.9" r="8"/><circle cx="947.2" cy="453.8" r="8"/><circle cx="960.2" cy="450.0" r="8"/><circle cx="968.8" cy="452.5" r="8"/><circle cx="1003.8" cy="451.9" r="8"/><circle cx="973.8" cy="461.9" r="8"/><circle cx="943.8" cy="469.4" r="8"/><circle cx="954.4" cy="470.0" r="8"/><circle cx="1005.0" cy="463.1" r="8"/><circle cx="948.5" cy="481.2" r="8"/><circle cx="968.1" cy="480.0" r="8"/><circle cx="975.6" cy="482.5" r="8"/><circle cx="978.8" cy="488.1" r="8"/><circle cx="983.1" cy="491.2" r="8"/><circle cx="973.8" cy="487.5" r="8"/><circle cx="1011.9" cy="479.4" r="8"/><circle cx="1031.9" cy="480.2" r="8"/><circle cx="1001.2" cy="488.1" r="8"/><circle cx="948.5" cy="495.0" r="8"/><circle cx="1008.1" cy="496.9" r="8"/><circle cx="968.8" cy="500.0" r="8"/><circle cx="1047.8" cy="499.8" r="8"/><circle cx="961.2" cy="505.6" r="8"/><circle cx="956.9" cy="507.5" r="8"/><circle cx="1033.8" cy="505.0" r="8"/><circle cx="1007.5" cy="507.5" r="8"/><circle cx="985.6" cy="509.4" r="8"/><circle cx="940.5" cy="515.0" r="8"/><circle cx="991.2" cy="485.0" r="8"/><circle cx="1014.4" cy="516.2" r="8"/><circle cx="1026.9" cy="520.6" r="8"/><circle cx="978.1" cy="521.2" r="8"/><circle cx="993.8" cy="519.4" r="8"/><circle cx="990.6" cy="525.6" r="8"/><circle cx="1015.0" cy="527.5" r="8"/><circle cx="1019.4" cy="525.0" r="8"/><circle cx="1016.5" cy="535.0" r="8"/><circle cx="961.5" cy="532.2" r="8"/><circle cx="948.5" cy="541.2" r="8"/><circle cx="995.6" cy="542.2" r="8"/><circle cx="1006.5" cy="550.2" r="8"/><circle cx="966.2" cy="551.2" r="8"/><circle cx="981.2" cy="558.1" r="8"/><circle cx="987.5" cy="559.4" r="8"/><circle cx="998.5" cy="564.4" r="8"/><circle cx="1034.4" cy="552.2" r="8"/><circle cx="1031.2" cy="555.0" r="8"/><circle cx="1029.4" cy="558.1" r="8"/><circle cx="970.2" cy="573.5" r="8"/><circle cx="980.2" cy="580.4" r="8"/><circle cx="940.6" cy="586.2" r="8"/><circle cx="953.8" cy="587.5" r="8"/><circle cx="943.5" cy="593.5" r="8"/><circle cx="1017.5" cy="585.2" r="8"/><circle cx="1014.4" cy="589.4" r="8"/><circle cx="1028.5" cy="587.5" r="8"/><circle cx="1042.5" cy="584.0" r="8"/><circle cx="1047.5" cy="588.5" r="8"/><circle cx="1001.5" cy="603.1" r="8"/><circle cx="994.4" cy="608.8" r="8"/><circle cx="1030.6" cy="605.2" r="8"/><circle cx="1001.2" cy="612.5" r="8"/><circle cx="995.0" cy="621.2" r="8"/><circle cx="1034.4" cy="616.2" r="8"/><circle cx="1049.4" cy="617.2" r="8"/><circle cx="1038.8" cy="621.9" r="8"/><circle cx="1042.5" cy="628.8" r="8"/><circle cx="971.9" cy="624.4" r="8"/><circle cx="962.5" cy="629.4" r="8"/><circle cx="970.0" cy="631.2" r="8"/><circle cx="957.5" cy="634.4" r="8"/><circle cx="975.6" cy="636.2" r="8"/><circle cx="965.0" cy="637.5" r="8"/><circle cx="958.8" cy="640.6" r="8"/><circle cx="970.0" cy="643.1" r="8"/><circle cx="1007.5" cy="636.2" r="8"/><circle cx="1004.4" cy="638.8" r="8"/><circle cx="1013.8" cy="647.5" r="8"/><circle cx="1020.0" cy="656.2" r="8"/><circle cx="989.4" cy="650.0" r="8"/><circle cx="991.9" cy="656.2" r="8"/><circle cx="968.8" cy="650.0" r="8"/><circle cx="968.8" cy="656.2" r="8"/><circle cx="966.2" cy="662.5" r="8"/><circle cx="971.2" cy="662.5" r="8"/><circle cx="973.8" cy="667.5" r="8"/><circle cx="948.5" cy="657.8" r="8"/><circle cx="947.8" cy="669.8" r="8"/><circle cx="1018.8" cy="666.9" r="8"/><circle cx="1003.5" cy="669.4" r="8"/><circle cx="980.0" cy="668.8" r="8"/><circle cx="976.2" cy="673.1" r="8"/><circle cx="985.0" cy="675.0" r="8"/><circle cx="988.8" cy="680.0" r="8"/><circle cx="992.5" cy="685.0" r="8"/><circle cx="996.9" cy="685.0" r="8"/><circle cx="996.2" cy="691.9" r="8"/><circle cx="954.8" cy="684.0" r="8"/><circle cx="941.2" cy="693.8" r="8"/><circle cx="941.9" cy="699.4" r="8"/><circle cx="956.9" cy="697.5" r="8"/><circle cx="963.1" cy="698.1" r="8"/><circle cx="982.5" cy="695.0" r="8"/><circle cx="984.4" cy="697.5" r="8"/><circle cx="981.2" cy="699.4" r="8"/><circle cx="1019.4" cy="689.4" r="8"/><circle cx="1026.9" cy="687.5" r="8"/><circle cx="1042.8" cy="685.2" r="8"/><circle cx="966.5" cy="714.4" r="8"/><circle cx="990.6" cy="722.2" r="8"/><circle cx="1011.0" cy="716.2" r="8"/><circle cx="1030.6" cy="711.9" r="8"/><circle cx="1026.2" cy="718.8" r="8"/><circle cx="1028.8" cy="721.2" r="8"/><circle cx="1023.1" cy="722.5" r="8"/><circle cx="1033.1" cy="723.1" r="8"/><circle cx="1021.2" cy="725.6" r="8"/><circle cx="1004.0" cy="733.1" r="8"/><circle cx="1018.5" cy="733.1" r="8"/><circle cx="1037.5" cy="732.5" r="8"/><circle cx="941.2" cy="726.2" r="8"/><circle cx="943.8" cy="735.0" r="8"/><circle cx="940.6" cy="740.0" r="8"/><circle cx="940.0" cy="742.5" r="8"/><circle cx="959.0" cy="749.0" r="8"/><circle cx="966.2" cy="745.0" r="8"/><circle cx="973.1" cy="746.9" r="8"/><circle cx="980.6" cy="751.5" r="8"/><circle cx="1039.4" cy="746.0" r="8"/><circle cx="1045.6" cy="745.0" r="8"/><circle cx="1042.5" cy="756.2" r="8"/><circle cx="1018.5" cy="755.6" r="8"/><circle cx="1047.5" cy="776.2" r="8"/><circle cx="943.1" cy="778.8" r="8"/><circle cx="948.1" cy="782.5" r="8"/><circle cx="948.1" cy="791.2" r="8"/><circle cx="960.6" cy="778.8" r="8"/><circle cx="963.1" cy="781.2" r="8"/><circle cx="965.6" cy="783.8" r="8"/><circle cx="973.8" cy="776.2" r="8"/><circle cx="1000.6" cy="785.0" r="8"/><circle cx="998.8" cy="788.1" r="8"/><circle cx="994.4" cy="793.8" r="8"/><circle cx="974.8" cy="799.4" r="8"/><circle cx="1004.4" cy="800.0" r="8"/><circle cx="1010.0" cy="803.1" r="8"/><circle cx="950.6" cy="816.9" r="8"/><circle cx="976.2" cy="816.2" r="8"/><circle cx="1033.8" cy="822.0" r="8"/><circle cx="1034.5" cy="822.3" r="8"/><circle cx="1033.0" cy="821.5" r="8"/><circle cx="1039.0" cy="207.0" r="8"/><circle cx="1042.0" cy="214.0" r="8"/><circle cx="946.0" cy="266.5" r="8"/><circle cx="968.5" cy="653.0" r="8"/><circle cx="970.0" cy="659.0" r="8"/><circle cx="975.0" cy="670.0" r="8"/><circle cx="1027.0" cy="720.0" r="8"/><circle cx="1025.0" cy="724.0" r="8"/><circle cx="982.0" cy="696.0" r="8"/><circle cx="978.0" cy="489.5" r="8"/><circle cx="1034.0" cy="423.0" r="8"/></g>
<rect x="351" y="293" width="168" height="361" fill="#fff" fill-opacity="0.2"/><g fill="#333" shape-rendering="crispEdges"><rect x="434" y="107" width="2" height="186"/><rect x="434" y="654" width="2" height="169"/><rect x="350" y="292" width="170" height="2"/><rect x="350" y="653" width="170" height="2"/><rect x="350" y="292" width="2" height="363"/><rect x="518" y="292" width="2" height="363"/><rect x="351" y="486" width="168" height="5"/></g>
<rect x="911" y="280" width="167" height="365" fill="#fff" fill-opacity="0.2"/><g fill="#333" shape-rendering="crispEdges"><rect x="994" y="111" width="2" height="169"/><rect x="994" y="645" width="2" height="178"/><rect x="910" y="279" width="169" height="2"/><rect x="910" y="644" width="169" height="2"/><rect x="910" y="279" width="2" height="367"/><rect x="1077" y="279" width="2" height="367"/><rect x="911" y="468" width="167" height="5"/></g>
<path d="M359.8,107.0 L352.2,115.8 L343.2,126.3 L334.0,136.7 L326.5,147.1 L321.8,157.5 L319.3,167.9 L318.6,178.3 L319.7,188.8 L321.4,199.2 L323.2,209.6 L324.9,220.0 L326.4,230.4 L327.2,240.8 L327.6,251.2 L327.6,261.7 L327.2,272.1 L325.9,282.5 L323.9,292.9 L320.9,305.8 L319.5,316.2 L318.4,326.7 L317.8,337.1 L317.6,347.5 L317.6,357.9 L317.8,368.3 L318.4,378.8 L319.3,389.2 L320.1,399.6 L320.9,410.0 L321.6,420.4 L322.0,430.8 L322.0,441.2 L321.6,451.7 L320.7,462.1 L319.3,472.5 L317.6,482.9 L314.5,495.8 L311.8,506.2 L309.3,516.7 L307.0,527.1 L305.1,537.5 L303.6,547.9 L302.4,558.3 L301.4,568.8 L300.5,579.2 L299.9,589.6 L299.3,600.0 L298.6,610.4 L298.0,620.8 L297.4,631.2 L296.8,641.7 L296.1,652.1 L295.3,662.5 L294.7,672.9 L294.5,681.2 L294.7,691.7 L295.5,702.1 L297.0,712.5 L299.1,722.9 L302.0,733.3 L305.7,743.8 L310.7,754.2 L317.0,764.6 L324.5,775.0 L333.2,785.4 L342.6,795.8 L353.0,806.2 L363.4,815.6 L373.1,823.0 L496.5,823.0 L506.2,815.6 L516.6,806.2 L527.0,795.8 L536.4,785.4 L545.1,775.0 L552.6,764.6 L558.9,754.2 L563.9,743.8 L567.6,733.3 L570.5,722.9 L572.6,712.5 L574.1,702.1 L574.9,691.7 L575.1,681.2 L574.9,672.9 L574.3,662.5 L573.5,652.1 L572.8,641.7 L572.2,631.2 L571.6,620.8 L571.0,610.4 L570.3,600.0 L569.7,589.6 L569.1,579.2 L568.2,568.8 L567.2,558.3 L566.0,547.9 L564.5,537.5 L562.6,527.1 L560.3,516.7 L557.8,506.2 L555.1,495.8 L552.0,482.9 L550.3,472.5 L548.9,462.1 L548.0,451.7 L547.6,441.2 L547.6,430.8 L548.0,420.4 L548.7,410.0 L549.5,399.6 L550.3,389.2 L551.2,378.8 L551.8,368.3 L552.0,357.9 L552.0,347.5 L551.8,337.1 L551.2,326.7 L550.1,316.2 L548.7,305.8 L545.8,292.9 L543.7,282.5 L542.4,272.1 L542.0,261.7 L542.0,251.2 L542.4,240.8 L543.2,230.4 L544.7,220.0 L546.4,209.6 L548.2,199.2 L549.9,188.8 L551.0,178.3 L550.3,167.9 L547.8,157.5 L543.1,147.1 L535.6,136.7 L526.4,126.3 L517.4,115.8 L509.8,107.0 Z" fill="#fff" fill-opacity="0.2" stroke="#262626" stroke-width="2" stroke-linejoin="round"/>
<path d="M933.0,111.0 L924.5,121.0 L913.0,133.5 L902.6,147.1 L892.2,161.7 L881.8,178.3 L875.5,188.8 L870.7,199.2 L867.2,209.6 L864.7,220.0 L863.2,230.4 L862.8,240.8 L863.4,251.2 L864.7,261.7 L866.3,272.1 L868.4,282.5 L870.9,292.9 L873.8,305.8 L875.3,316.2 L876.1,326.7 L876.3,337.1 L876.1,347.5 L875.5,357.9 L874.3,368.3 L872.6,378.8 L870.7,389.2 L868.6,399.6 L866.3,410.0 L863.8,420.4 L861.8,430.8 L860.1,441.2 L858.8,451.7 L858.0,462.1 L858.0,472.5 L858.8,482.9 L861.8,495.8 L864.3,506.2 L867.0,516.7 L869.5,527.1 L871.6,537.5 L873.0,547.9 L873.8,558.3 L874.1,568.8 L873.8,579.2 L873.0,589.6 L871.6,600.0 L869.7,610.4 L867.4,620.8 L864.9,631.2 L862.6,641.7 L860.7,652.1 L859.5,662.5 L858.8,670.8 L859.3,681.2 L860.5,691.7 L862.4,702.1 L865.1,712.5 L868.4,722.9 L872.6,733.3 L877.6,743.8 L883.4,754.2 L890.1,764.6 L897.4,775.0 L905.3,785.4 L913.4,795.8 L921.8,806.2 L930.7,816.7 L939.5,823.0 L1050.1,823.0 L1058.9,816.7 L1067.8,806.2 L1076.2,795.8 L1084.3,785.4 L1092.2,775.0 L1099.5,764.6 L1106.2,754.2 L1112.0,743.8 L1117.0,733.3 L1121.2,722.9 L1124.5,712.5 L1127.2,702.1 L1129.1,691.7 L1130.3,681.2 L1130.8,670.8 L1130.1,662.5 L1128.9,652.1 L1127.0,641.7 L1124.7,631.2 L1122.2,620.8 L1119.9,610.4 L1118.0,600.0 L1116.6,589.6 L1115.8,579.2 L1115.5,568.8 L1115.8,558.3 L1116.6,547.9 L1118.0,537.5 L1120.1,527.1 L1122.6,516.7 L1125.3,506.2 L1127.8,495.8 L1130.8,482.9 L1131.6,472.5 L1131.6,462.1 L1130.8,451.7 L1129.5,441.2 L1127.8,430.8 L1125.8,420.4 L1123.2,410.0 L1121.0,399.6 L1118.9,389.2 L1117.0,378.8 L1115.3,368.3 L1114.1,357.9 L1113.5,347.5 L1113.2,337.1 L1113.5,326.7 L1114.3,316.2 L1115.8,305.8 L1118.7,292.9 L1121.2,282.5 L1123.2,272.1 L1124.9,261.7 L1126.2,251.2 L1126.8,240.8 L1126.4,230.4 L1124.9,220.0 L1122.4,209.6 L1118.9,199.2 L1114.1,188.8 L1107.8,178.3 L1097.4,161.7 L1087.0,147.1 L1076.6,133.5 L1065.1,121.0 L1056.6,111.0 Z" fill="#fff" fill-opacity="0.2" stroke="#262626" stroke-width="2" stroke-linejoin="round"/>
<circle cx="435.0" cy="488.4" r="15" fill="#8B0000"/>
<circle cx="995.0" cy="470.4" r="15" fill="#8B0000"/>
<line x1="438" x2="582" y1="488" y2="488" stroke="#000" stroke-width="2" stroke-dasharray="9 5.5 2.5 5" stroke-dashoffset="3.75" shape-rendering="crispEdges"/>
<line x1="998" x2="1141" y1="470" y2="470" stroke="#000" stroke-width="2" stroke-dasharray="9 5.5 2.5 5" stroke-dashoffset="5.3" shape-rendering="crispEdges"/>
<g font-family="'Liberation Sans',sans-serif" fill="#000" stroke="#000" stroke-width="0.25">
<rect x="582.3" y="465.4" width="154.0" height="45.2" rx="4.5" ry="4.5" fill="#fff" stroke="#1a1a1a" stroke-width="1.1"/><text x="591.9" y="496.2" font-family="'Liberation Serif',serif" font-size="25">μ</text><polyline points="591.9,480.3 599.1,474.6 606.7,480.3" fill="none" stroke="#000" stroke-width="1.8"/><text x="606.3" y="500.8" font-size="15.9">median</text><text x="662.5" y="500.2" font-family="'Liberation Serif',serif" font-size="26.4" stroke="none">=</text><text x="681.5" y="496.2" font-size="22.8">0.47</text>
<rect x="1141.5" y="447.2" width="154.0" height="45.2" rx="4.5" ry="4.5" fill="#fff" stroke="#1a1a1a" stroke-width="1.1"/><text x="1151.1" y="478.0" font-family="'Liberation Serif',serif" font-size="25">μ</text><polyline points="1151.1,462.1 1158.3,456.4 1165.9,462.1" fill="none" stroke="#000" stroke-width="1.8"/><text x="1165.5" y="482.6" font-size="15.9">median</text><text x="1221.7" y="482.0" font-family="'Liberation Serif',serif" font-size="26.4" stroke="none">=</text><text x="1240.7" y="478.0" font-size="22.8">0.49</text>
</g>
<g fill="#333" shape-rendering="crispEdges">
<rect x="93" y="822" width="6" height="2"/>
<rect x="93" y="643" width="6" height="2"/>
<rect x="93" y="464" width="6" height="2"/>
<rect x="93" y="284" width="6" height="2"/>
<rect x="93" y="105" width="6" height="2"/>
<rect x="434" y="859" width="2" height="6"/>
<rect x="994" y="859" width="2" height="6"/>
</g>
<g font-family="'Liberation Sans',sans-serif" font-size="21.3" fill="#4d4d4d" stroke="#4d4d4d" stroke-width="0.25">
<text x="86.9" y="832.2" text-anchor="end">0.00</text>
<text x="86.9" y="653.2" text-anchor="end">0.25</text>
<text x="86.9" y="474.2" text-anchor="end">0.50</text>
<text x="86.9" y="294.2" text-anchor="end">0.75</text>
<text x="86.9" y="115.2" text-anchor="end">1.00</text>
<text x="435.0" y="887.8" text-anchor="middle">FALSE</text>
<text x="435.0" y="910.8" text-anchor="middle">(n = 710)</text>
<text x="994.4" y="887.8" text-anchor="middle" letter-spacing="-0.9">TRUE</text>
<text x="995.0" y="910.8" text-anchor="middle">(n = 301)</text>
</g>
<g font-family="'Liberation Sans',sans-serif" font-size="27.4" font-weight="bold" fill="#000">
<text x="715.5" y="941.6" text-anchor="middle">haveKids</text>
<text transform="translate(34.7,466.2) rotate(-90)" text-anchor="middle">joviality</text>
</g>
<g font-family="'Liberation Sans',sans-serif" font-size="27" fill="#000" stroke="#000" stroke-width="0.3">
<text x="99.6" y="43.8" font-style="italic">W</text>
<text x="128.0" y="49.3" font-size="18.7">Mann-Whitney</text>
<text x="252.0" y="48.3" font-family="'Liberation Serif',serif" font-size="31" stroke="none">=</text>
<text x="274.5" y="43.8" >1.05e+05,</text>
<text x="403.0" y="43.8" font-style="italic">p</text>
<text x="426.0" y="48.3" font-family="'Liberation Serif',serif" font-size="31" stroke="none">=</text>
<text x="447.5" y="43.8" >0.64,</text>
<text x="516.0" y="43.8" font-style="italic">r</text>
<text transform="translate(514.9,32.4) scale(1,0.83)" font-size="29.3" stroke-width="0.5">^</text>
<text x="529.5" y="28.0" font-size="18.7">rank</text>
<text x="527.5" y="51.9" font-size="18.7">biserial</text>
<text x="593.3" y="48.3" font-family="'Liberation Serif',serif" font-size="31" stroke="none">=</text>
<text x="616.0" y="43.8" >-0.02,</text>
<text x="693.2" y="43.8" >CI</text>
<text x="721.0" y="48.8" font-size="18.7">95%</text>
<text x="767.0" y="43.8" >[-0.10, 0.06],</text>
<text x="928.0" y="43.8" font-style="italic">n</text>
<text x="945.0" y="48.8" font-size="18.7">obs</text>
<text x="982.0" y="48.3" font-family="'Liberation Serif',serif" font-size="31" stroke="none">=</text>
<text x="1004.5" y="43.8" >1,011</text>
</g>
</svg>
</body></html>
